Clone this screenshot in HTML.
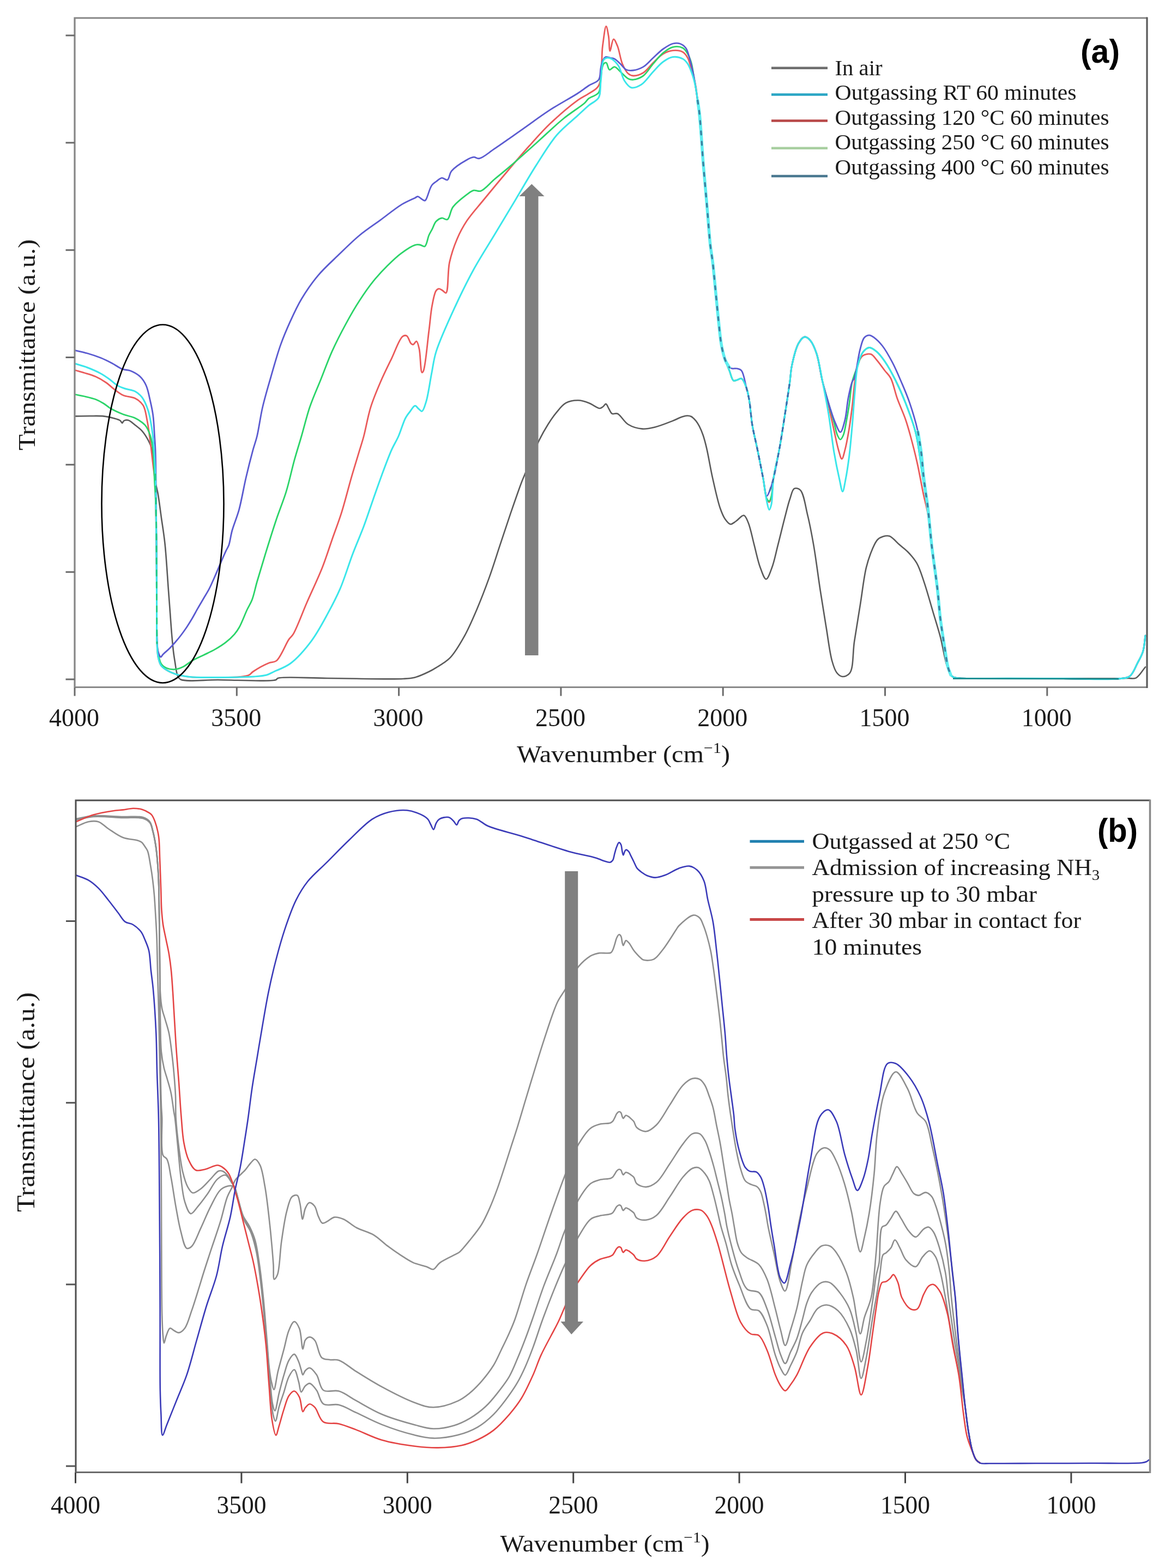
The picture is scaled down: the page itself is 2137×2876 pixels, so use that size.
<!DOCTYPE html>
<html><head><meta charset="utf-8"><title>FTIR spectra</title>
<style>html,body{margin:0;padding:0;background:#fff;} svg{display:block;}</style>
</head><body>
<svg xmlns="http://www.w3.org/2000/svg" width="2137" height="2876" viewBox="0 0 2137 2876">
<rect x="0" y="0" width="2137" height="2876" fill="#ffffff"/>
<path d="M137.5,763.4 C146.7,763.3 156.1,763.0 165.0,763.0 C173.5,763.0 182.4,762.6 190.0,763.4 C196.5,764.1 202.6,765.6 208.0,767.0 C212.4,768.2 217.1,769.1 220.0,771.0 C222.1,772.4 223.2,776.1 224.4,776.0 C225.4,775.9 225.6,772.9 227.0,772.0 C228.8,770.8 232.4,770.0 235.3,770.7 C239.3,771.6 243.8,776.5 248.0,779.7 C252.3,783.1 256.9,786.3 260.7,790.6 C264.8,795.3 268.5,801.2 271.6,807.0 C274.6,812.7 277.2,818.2 279.0,825.0 C281.1,833.1 281.6,843.2 282.5,852.4 C283.4,861.6 283.1,871.0 284.3,880.0 C285.5,888.8 288.1,896.2 289.8,906.0 C292.0,918.7 293.9,935.1 296.0,950.0 C298.2,965.4 300.6,979.0 302.5,997.0 C305.1,1021.3 307.2,1059.4 309.0,1082.8 C310.2,1099.1 311.1,1110.3 312.1,1124.1 C313.1,1137.9 314.1,1152.7 315.2,1165.5 C316.2,1176.6 317.1,1187.2 318.3,1196.5 C319.2,1204.1 320.5,1211.1 321.4,1217.2 C322.1,1222.0 322.6,1226.0 323.4,1230.0 C324.1,1233.6 324.5,1237.2 326.0,1240.0 C327.4,1242.6 328.2,1244.9 331.7,1246.5 C341.6,1251.0 374.7,1246.9 400.0,1247.0 C431.5,1247.1 495.1,1250.9 506.0,1247.0 C508.3,1246.2 507.4,1244.8 509.6,1244.0 C519.5,1240.4 566.6,1243.9 600.0,1244.0 C641.6,1244.1 713.8,1246.5 740.0,1245.0 C750.3,1244.4 754.1,1244.3 761.4,1242.4 C769.6,1240.3 779.8,1235.4 786.8,1232.0 C792.0,1229.5 795.0,1227.8 800.0,1224.6 C807.2,1220.1 817.6,1214.7 825.4,1206.7 C835.1,1196.8 843.6,1181.6 851.5,1167.5 C860.0,1152.4 867.0,1135.6 874.4,1118.4 C882.3,1099.8 890.2,1079.3 897.3,1059.6 C904.4,1040.1 910.4,1020.3 916.9,1000.7 C923.4,981.1 929.9,961.2 936.5,941.9 C943.0,923.1 951.2,899.3 956.1,886.3 C958.8,879.2 960.2,876.3 962.7,870.0 C966.2,861.5 970.7,850.2 975.0,840.0 C979.4,829.5 983.7,818.2 988.8,807.9 C993.8,797.8 999.5,787.5 1005.2,778.5 C1010.4,770.2 1015.8,762.4 1021.5,755.6 C1026.7,749.4 1031.4,742.8 1037.9,739.2 C1044.4,735.6 1053.4,734.2 1060.7,734.3 C1067.5,734.4 1074.0,736.8 1080.4,739.2 C1087.1,741.7 1095.3,749.0 1100.0,749.0 C1102.6,749.0 1104.1,747.3 1106.0,746.0 C1108.0,744.6 1109.7,740.7 1111.4,740.9 C1113.4,741.2 1115.1,747.0 1117.0,750.0 C1118.9,753.0 1120.2,757.4 1122.9,758.8 C1125.5,760.2 1129.2,757.3 1132.7,758.8 C1138.6,761.2 1144.6,773.9 1152.3,778.5 C1159.9,783.1 1169.9,785.9 1178.4,786.6 C1186.2,787.2 1193.1,785.4 1201.3,783.4 C1211.3,781.0 1225.1,775.4 1234.0,771.9 C1240.3,769.4 1245.2,766.6 1250.0,765.0 C1253.7,763.8 1257.0,762.6 1260.2,762.5 C1263.0,762.4 1265.5,762.7 1268.0,764.0 C1271.0,765.5 1274.0,768.9 1276.5,771.9 C1278.9,774.8 1280.7,777.9 1282.7,781.7 C1285.1,786.4 1287.5,791.9 1289.6,798.0 C1292.1,805.3 1294.0,812.7 1296.3,822.6 C1299.7,837.1 1303.1,858.9 1307.2,877.0 C1311.3,895.2 1316.1,917.8 1320.8,931.5 C1323.8,940.1 1326.3,946.7 1330.0,952.0 C1332.9,956.1 1336.4,961.0 1339.9,961.5 C1343.1,961.9 1346.4,958.3 1350.0,956.0 C1354.5,953.1 1360.6,944.5 1364.4,945.2 C1368.0,945.9 1370.1,952.8 1372.6,958.8 C1376.7,968.6 1379.9,986.0 1383.5,999.6 C1387.1,1013.2 1390.1,1029.2 1394.4,1040.5 C1397.7,1049.1 1401.7,1062.3 1405.3,1062.3 C1408.9,1062.3 1413.0,1049.1 1416.2,1040.5 C1420.5,1029.2 1423.2,1014.2 1427.0,999.6 C1431.3,982.8 1436.6,960.7 1440.7,945.2 C1443.7,933.6 1445.9,923.8 1449.0,915.0 C1451.5,907.9 1453.0,898.1 1457.0,896.1 C1459.9,894.6 1464.8,895.8 1468.0,898.9 C1474.6,905.2 1477.5,929.1 1481.5,945.2 C1485.8,962.5 1488.9,979.6 1492.4,999.6 C1496.7,1024.1 1500.5,1055.6 1504.5,1081.7 C1508.2,1105.5 1511.7,1127.6 1515.4,1149.8 C1519.0,1171.1 1521.9,1197.2 1526.3,1212.5 C1528.9,1221.7 1531.1,1229.1 1535.0,1234.0 C1537.9,1237.6 1541.5,1240.7 1545.3,1241.0 C1549.5,1241.3 1555.5,1239.1 1559.0,1234.3 C1565.8,1224.9 1564.1,1196.9 1567.1,1177.0 C1570.4,1155.3 1574.4,1131.7 1578.0,1109.0 C1581.7,1086.3 1584.5,1059.3 1589.0,1040.9 C1592.2,1027.9 1595.9,1017.4 1599.8,1008.2 C1602.9,1001.1 1605.6,994.1 1609.6,990.0 C1612.6,986.9 1616.3,985.1 1620.0,984.0 C1623.6,982.9 1627.4,982.0 1631.4,983.3 C1637.3,985.3 1644.5,994.5 1650.4,999.6 C1655.6,1004.0 1660.2,1007.1 1665.0,1012.0 C1670.6,1017.8 1676.8,1024.5 1681.5,1032.7 C1687.2,1042.6 1690.7,1054.9 1695.2,1068.1 C1700.7,1084.2 1706.3,1105.2 1711.5,1122.6 C1716.3,1138.7 1721.0,1153.2 1725.1,1168.9 C1729.2,1185.0 1732.3,1205.8 1736.0,1218.0 C1738.3,1225.6 1740.2,1231.7 1743.0,1236.0 C1745.0,1239.0 1746.9,1241.1 1749.6,1242.4 C1752.5,1243.8 1754.8,1243.6 1760.0,1244.0 C1775.2,1245.2 1819.2,1244.1 1850.0,1244.2 C1882.5,1244.3 1917.5,1244.3 1950.0,1244.4 C1980.8,1244.4 2018.0,1244.7 2040.0,1244.5 C2052.7,1244.4 2062.0,1244.2 2070.0,1244.0 C2075.4,1243.9 2079.2,1245.7 2083.6,1243.6 C2089.7,1240.7 2095.2,1230.2 2101.0,1223.5" fill="none" stroke="#5a5a5a" stroke-width="2.6" stroke-linejoin="round" stroke-linecap="round" />
<path d="M137.5,679.0 C143.3,680.7 149.0,682.1 155.0,684.0 C161.6,686.0 168.8,687.9 175.4,690.8 C182.2,693.8 189.1,697.9 195.0,702.0 C200.5,705.8 204.8,710.6 210.0,714.4 C215.1,718.2 220.0,722.3 226.0,725.0 C232.5,727.9 241.7,727.4 248.0,730.7 C253.8,733.7 259.0,737.7 262.6,743.4 C266.9,750.3 267.8,760.9 269.8,770.7 C272.1,781.9 273.6,794.2 275.3,807.0 C277.2,821.3 279.1,839.1 280.7,852.4 C281.9,862.7 283.2,869.9 284.0,880.0 C284.9,892.1 285.1,904.4 285.5,920.0 C286.1,942.1 286.7,971.8 287.0,1000.0 C287.4,1031.5 287.3,1068.5 287.5,1100.0 C287.7,1128.2 287.2,1160.9 288.0,1180.0 C288.5,1190.7 288.5,1197.8 290.0,1205.0 C291.2,1210.7 292.5,1216.2 295.0,1220.0 C297.0,1223.1 299.3,1224.7 302.6,1227.0 C307.2,1230.2 314.0,1233.6 320.8,1236.0 C328.8,1238.8 337.4,1240.4 348.0,1241.6 C362.5,1243.2 383.8,1242.6 400.0,1242.5 C414.2,1242.4 429.5,1242.7 440.0,1241.5 C446.9,1240.7 452.8,1240.1 457.0,1238.0 C460.1,1236.5 460.7,1234.3 464.0,1232.0 C470.3,1227.7 485.2,1219.3 493.3,1216.0 C498.6,1213.8 502.5,1215.5 507.0,1212.0 C515.0,1205.8 524.1,1180.9 530.0,1172.6 C533.0,1168.4 534.7,1168.2 537.6,1163.6 C544.3,1152.8 554.3,1124.9 563.0,1105.0 C572.1,1084.2 583.0,1061.6 591.0,1041.5 C598.0,1023.8 602.9,1007.6 608.8,990.7 C614.7,973.7 620.9,957.8 626.6,939.8 C632.9,919.9 638.6,896.3 644.4,876.3 C649.6,858.4 655.5,839.4 659.7,825.4 C662.7,815.5 664.6,810.1 667.3,800.0 C671.2,785.6 674.7,763.7 680.0,746.8 C685.0,730.8 691.4,715.9 697.8,701.0 C704.1,686.3 711.3,671.9 718.2,657.8 C724.9,644.0 732.2,621.7 738.5,617.1 C741.1,615.2 743.8,614.8 746.0,615.9 C749.2,617.5 751.2,627.4 753.8,629.9 C755.2,631.2 756.6,632.2 758.0,632.0 C759.9,631.7 762.3,625.6 764.0,626.0 C766.2,626.5 767.6,633.9 769.0,640.0 C771.4,650.3 771.3,682.2 774.0,683.2 C774.8,683.5 775.8,682.4 776.6,680.7 C780.4,673.2 783.9,628.8 786.8,607.0 C789.1,589.6 790.0,573.4 792.7,560.0 C794.7,549.7 796.7,537.7 800.0,533.2 C801.6,531.0 803.5,529.8 805.4,529.7 C807.5,529.6 809.9,531.7 812.0,533.0 C814.1,534.3 816.4,538.1 818.1,537.3 C822.8,535.2 820.8,498.7 824.5,481.4 C827.9,465.9 832.9,451.4 838.5,438.2 C843.6,426.2 849.0,416.2 856.3,405.1 C864.7,392.5 875.3,381.1 886.8,367.0 C901.5,349.0 922.4,323.9 937.6,306.0 C949.7,291.7 959.1,280.6 970.7,267.8 C982.8,254.3 994.8,240.5 1008.8,227.1 C1024.2,212.5 1046.3,193.6 1059.7,183.9 C1067.7,178.1 1073.6,176.1 1080.0,171.6 C1086.4,167.1 1093.8,165.1 1098.2,157.0 C1105.9,142.8 1102.6,104.5 1105.4,84.5 C1107.4,70.3 1109.7,48.3 1111.8,48.2 C1113.3,48.1 1115.1,59.6 1116.3,66.3 C1117.7,74.4 1117.3,93.4 1119.0,93.6 C1120.5,93.7 1122.8,72.1 1125.4,71.8 C1127.5,71.5 1130.4,79.1 1132.7,84.5 C1136.1,92.7 1137.8,108.1 1141.7,117.2 C1144.8,124.4 1148.5,131.8 1152.6,135.3 C1155.4,137.7 1158.1,138.8 1161.7,139.0 C1166.7,139.2 1174.3,136.9 1180.0,133.5 C1186.6,129.5 1191.9,121.1 1198.0,115.3 C1204.0,109.6 1209.7,102.8 1216.2,99.0 C1221.9,95.6 1228.2,93.2 1234.3,92.6 C1240.3,92.0 1247.8,92.8 1252.5,95.4 C1256.6,97.7 1259.1,101.7 1261.6,106.3 C1264.9,112.4 1266.6,121.7 1268.9,129.9 C1271.4,138.6 1274.2,147.9 1276.0,157.0 C1277.8,166.0 1278.5,175.2 1279.7,184.3 C1280.9,193.4 1282.2,199.9 1283.4,211.6 C1285.6,232.6 1287.7,271.3 1290.0,300.0 C1292.2,327.3 1294.8,354.2 1297.0,380.0 C1299.1,404.1 1300.9,431.6 1303.0,450.0 C1304.4,462.1 1305.8,468.5 1307.2,480.0 C1309.1,495.5 1310.9,516.3 1312.7,534.5 C1314.5,552.7 1316.2,571.7 1318.1,589.0 C1319.8,604.8 1321.1,621.2 1323.6,634.3 C1325.6,644.6 1328.1,653.5 1330.8,661.6 C1333.0,668.4 1335.6,673.9 1338.0,680.0 C1340.4,686.0 1342.1,696.1 1345.4,698.0 C1347.3,699.1 1349.7,697.6 1352.0,697.0 C1354.6,696.4 1357.6,693.4 1360.0,694.3 C1363.6,695.7 1366.7,704.5 1369.0,710.6 C1371.7,717.6 1372.8,725.0 1374.4,734.2 C1376.6,746.9 1377.5,765.1 1380.0,780.0 C1382.4,794.5 1385.9,807.5 1389.0,822.6 C1392.5,839.6 1396.7,860.5 1399.8,877.0 C1402.4,890.8 1403.6,908.0 1406.6,915.0 C1407.9,918.1 1409.7,921.1 1411.0,921.0 C1412.5,920.8 1413.9,916.1 1415.0,912.0 C1417.1,904.3 1416.9,889.9 1418.9,877.0 C1421.4,860.8 1426.3,841.8 1429.8,822.6 C1433.7,801.2 1437.4,775.9 1440.7,754.5 C1443.7,735.3 1446.8,715.4 1448.9,700.0 C1450.4,688.7 1450.3,681.2 1452.5,670.7 C1455.2,657.9 1459.8,638.0 1465.2,629.0 C1468.4,623.6 1472.2,618.4 1476.0,618.0 C1479.5,617.6 1483.8,621.5 1487.0,625.3 C1491.5,630.6 1494.8,639.4 1498.0,649.0 C1502.5,662.6 1505.0,683.6 1508.8,700.0 C1512.4,715.5 1516.5,730.0 1520.0,745.0 C1523.5,760.0 1526.8,775.9 1530.0,790.0 C1532.8,802.4 1535.2,815.5 1538.0,825.0 C1540.0,831.7 1542.2,841.7 1544.2,841.7 C1546.2,841.7 1548.2,831.7 1550.0,825.0 C1552.6,815.5 1554.9,802.4 1557.0,790.0 C1559.4,776.0 1561.5,760.0 1563.3,745.0 C1565.1,730.0 1566.2,713.5 1568.0,700.0 C1569.5,689.0 1570.1,678.4 1573.0,670.0 C1575.3,663.2 1577.9,655.9 1582.4,652.6 C1586.4,649.7 1593.2,648.3 1597.5,649.6 C1601.7,650.9 1604.4,656.0 1608.1,660.2 C1612.9,665.6 1618.6,674.0 1623.2,680.0 C1627.0,684.9 1630.6,687.5 1633.8,693.5 C1638.7,702.6 1641.5,718.8 1646.0,731.3 C1650.6,744.0 1656.8,757.1 1661.0,769.2 C1664.7,779.9 1667.1,788.5 1670.2,800.0 C1674.1,814.3 1678.5,831.3 1682.3,848.4 C1686.6,867.4 1690.9,893.0 1694.4,909.0 C1696.7,919.5 1698.7,926.1 1700.5,935.0 C1702.4,944.2 1703.9,953.3 1705.3,963.4 C1706.8,974.8 1707.3,985.4 1709.0,1000.0 C1711.5,1021.9 1716.9,1057.2 1719.7,1081.7 C1722.0,1101.7 1722.8,1118.1 1725.1,1136.2 C1727.4,1154.4 1730.8,1174.9 1733.3,1190.7 C1735.3,1203.0 1736.5,1214.7 1738.8,1223.4 C1740.3,1229.3 1741.7,1234.7 1744.0,1238.0 C1745.6,1240.2 1747.3,1241.4 1749.6,1242.4 C1752.4,1243.6 1754.8,1243.6 1760.0,1244.0 C1775.2,1245.2 1819.2,1244.2 1850.0,1244.3 C1882.5,1244.4 1916.7,1244.5 1950.0,1244.6 C1983.3,1244.7 2028.8,1247.0 2050.0,1245.0 C2060.0,1244.0 2066.1,1244.9 2072.0,1240.7 C2078.6,1236.0 2082.3,1224.3 2086.5,1216.3 C2090.4,1209.0 2094.2,1202.7 2096.6,1194.8 C2099.3,1186.1 2099.5,1175.6 2101.0,1166.0" fill="none" stroke="#ea5a5a" stroke-width="2.8" stroke-linejoin="round" stroke-linecap="round" />
<path d="M137.5,723.5 C143.3,724.7 149.0,725.6 155.0,727.0 C161.6,728.5 169.3,730.1 175.4,732.5 C180.8,734.6 185.4,737.2 190.0,740.0 C194.5,742.7 197.6,746.1 202.6,749.0 C209.1,752.8 218.2,756.9 226.0,760.0 C233.4,762.9 241.3,763.7 248.0,767.0 C254.6,770.3 261.4,774.4 266.0,779.7 C270.4,784.8 272.9,791.1 275.3,798.0 C278.1,806.0 279.4,814.4 280.7,825.0 C282.6,840.0 282.5,863.1 283.4,880.0 C284.1,894.4 284.9,904.4 285.5,920.0 C286.3,942.1 286.7,971.8 287.0,1000.0 C287.4,1031.5 287.3,1068.5 287.5,1100.0 C287.7,1128.2 286.9,1162.9 288.0,1180.0 C288.5,1188.2 289.1,1191.9 290.3,1198.0 C291.6,1204.3 292.4,1212.5 295.5,1217.2 C298.0,1221.1 301.8,1223.8 305.9,1225.5 C310.3,1227.4 316.3,1228.1 321.4,1227.6 C326.6,1227.1 331.9,1224.9 336.9,1222.4 C342.2,1219.8 346.7,1215.3 352.4,1212.0 C358.7,1208.3 366.2,1205.1 373.1,1201.7 C380.0,1198.3 387.0,1195.3 393.8,1191.4 C400.8,1187.4 408.3,1182.8 414.5,1177.9 C420.3,1173.4 425.8,1168.3 430.0,1163.4 C433.6,1159.2 435.8,1156.2 438.8,1150.8 C443.4,1142.6 449.0,1127.3 453.4,1118.0 C456.7,1111.1 459.7,1107.1 462.4,1100.0 C465.9,1090.8 468.0,1079.2 471.5,1067.0 C475.9,1051.8 481.3,1033.9 486.8,1016.0 C493.0,996.0 500.3,972.4 507.0,952.5 C513.0,934.6 519.6,919.4 525.0,901.7 C530.7,883.0 535.2,861.2 540.2,843.2 C544.5,827.7 548.6,815.2 553.0,800.0 C557.9,783.2 562.3,764.2 568.2,746.8 C574.1,729.5 581.7,712.9 588.5,696.0 C595.3,679.0 601.3,661.9 608.8,645.1 C616.5,628.0 625.5,610.4 634.3,594.3 C642.5,579.1 650.9,564.5 659.7,551.0 C667.9,538.4 676.3,526.3 685.1,515.4 C693.3,505.3 701.8,496.1 710.5,487.5 C718.8,479.3 727.2,471.1 736.0,464.6 C744.2,458.5 755.0,451.2 761.4,449.3 C764.9,448.3 767.1,448.6 770.0,449.0 C773.1,449.4 776.7,453.1 779.2,451.9 C783.0,450.1 784.2,437.2 786.8,431.5 C788.7,427.2 790.6,424.4 792.7,420.4 C795.0,415.9 796.7,409.5 800.0,406.0 C802.9,403.0 806.9,400.5 810.5,400.0 C813.8,399.5 817.8,404.0 820.7,402.6 C825.2,400.4 825.7,386.8 830.9,379.7 C836.9,371.4 849.1,362.2 856.3,356.8 C861.1,353.3 864.6,350.2 869.0,349.2 C873.1,348.3 877.1,351.9 881.7,350.4 C889.2,348.0 898.2,336.3 907.1,328.8 C916.8,320.7 926.5,313.0 937.6,303.4 C951.4,291.5 967.7,276.7 983.4,262.7 C999.9,247.9 1018.3,230.0 1034.3,217.0 C1047.6,206.2 1064.7,195.9 1072.4,189.0 C1076.1,185.6 1076.7,183.4 1080.0,180.7 C1084.6,177.0 1094.4,175.6 1098.2,169.8 C1102.7,162.9 1100.4,149.2 1102.0,140.0 C1103.4,131.9 1104.4,120.7 1107.2,117.2 C1108.5,115.5 1110.5,114.5 1112.0,115.0 C1114.4,115.9 1115.2,127.1 1118.0,128.0 C1120.4,128.8 1124.1,122.3 1127.2,122.6 C1130.8,122.9 1134.2,128.4 1138.1,131.7 C1142.6,135.6 1148.0,142.2 1152.6,144.4 C1155.8,146.0 1158.2,146.5 1161.7,146.2 C1166.8,145.7 1174.4,143.1 1180.0,139.0 C1186.7,134.1 1191.9,124.2 1198.0,117.2 C1204.0,110.3 1209.7,102.5 1216.2,97.2 C1221.9,92.5 1228.0,87.7 1234.3,86.3 C1240.1,85.0 1247.8,85.5 1252.5,88.0 C1256.6,90.2 1259.1,94.8 1261.6,99.0 C1264.4,103.7 1266.3,109.0 1268.0,115.0 C1270.1,122.1 1270.9,129.7 1272.5,139.0 C1274.7,151.7 1277.8,171.1 1279.7,184.3 C1281.2,194.5 1282.2,199.9 1283.4,211.6 C1285.6,232.6 1287.7,271.3 1290.0,300.0 C1292.2,327.3 1294.8,354.2 1297.0,380.0 C1299.1,404.1 1300.9,431.6 1303.0,450.0 C1304.4,462.1 1305.8,468.5 1307.2,480.0 C1309.1,495.5 1310.9,516.3 1312.7,534.5 C1314.5,552.7 1316.2,571.7 1318.1,589.0 C1319.8,604.8 1321.1,621.2 1323.6,634.3 C1325.6,644.6 1328.1,653.5 1330.8,661.6 C1333.0,668.4 1335.6,673.9 1338.0,680.0 C1340.4,686.0 1342.1,696.1 1345.4,698.0 C1347.3,699.1 1349.7,697.6 1352.0,697.0 C1354.6,696.4 1357.6,693.4 1360.0,694.3 C1363.6,695.7 1366.7,704.5 1369.0,710.6 C1371.7,717.6 1372.8,725.0 1374.4,734.2 C1376.6,746.9 1377.5,765.1 1380.0,780.0 C1382.4,794.5 1385.9,807.5 1389.0,822.6 C1392.5,839.6 1396.7,860.5 1399.8,877.0 C1402.4,890.8 1403.3,909.0 1406.6,915.0 C1407.9,917.4 1409.7,919.3 1411.0,919.0 C1412.6,918.7 1413.9,914.1 1415.0,910.0 C1417.0,902.6 1416.9,889.3 1418.9,877.0 C1421.4,861.1 1426.3,841.8 1429.8,822.6 C1433.7,801.2 1437.4,775.9 1440.7,754.5 C1443.7,735.3 1446.8,715.4 1448.9,700.0 C1450.4,688.7 1450.3,681.2 1452.5,670.7 C1455.2,657.9 1459.8,638.0 1465.2,629.0 C1468.4,623.6 1472.2,618.4 1476.0,618.0 C1479.5,617.6 1483.8,621.5 1487.0,625.3 C1491.5,630.6 1494.8,639.4 1498.0,649.0 C1502.5,662.6 1504.9,684.1 1508.8,700.0 C1512.3,714.2 1516.4,727.1 1520.0,740.0 C1523.4,752.1 1527.1,764.5 1530.0,775.0 C1532.3,783.5 1533.5,792.4 1536.0,798.0 C1537.6,801.6 1539.7,806.2 1541.5,806.2 C1543.3,806.2 1545.4,801.7 1547.0,798.0 C1549.7,791.6 1551.2,779.5 1553.0,770.0 C1554.9,760.2 1556.4,750.7 1558.0,740.0 C1559.8,727.6 1560.4,712.2 1563.3,700.0 C1565.8,689.4 1570.0,680.1 1573.3,670.8 C1576.3,662.3 1578.1,652.3 1582.4,646.6 C1585.7,642.2 1590.2,637.8 1594.5,637.5 C1598.8,637.2 1603.8,641.4 1608.1,645.0 C1613.4,649.4 1618.2,655.9 1623.2,663.2 C1629.8,672.7 1636.8,685.8 1642.9,698.0 C1649.4,710.9 1655.3,724.3 1661.0,738.9 C1667.4,755.3 1674.8,774.9 1679.2,791.9 C1683.2,807.2 1685.0,822.2 1687.2,836.3 C1689.2,849.0 1690.3,861.1 1692.0,872.6 C1693.6,883.2 1695.4,893.4 1696.9,902.9 C1698.2,911.4 1699.3,918.2 1700.5,927.1 C1702.0,938.0 1703.9,951.3 1705.3,963.4 C1706.7,975.6 1707.3,985.4 1709.0,1000.0 C1711.5,1021.9 1716.9,1057.2 1719.7,1081.7 C1722.0,1101.7 1722.8,1118.1 1725.1,1136.2 C1727.4,1154.4 1730.8,1174.9 1733.3,1190.7 C1735.3,1203.0 1736.5,1214.7 1738.8,1223.4 C1740.3,1229.3 1741.7,1234.7 1744.0,1238.0 C1745.6,1240.2 1747.3,1241.4 1749.6,1242.4 C1752.4,1243.6 1754.8,1243.6 1760.0,1244.0 C1775.2,1245.2 1819.2,1244.2 1850.0,1244.3 C1882.5,1244.4 1916.7,1244.5 1950.0,1244.6 C1983.3,1244.7 2028.8,1247.0 2050.0,1245.0 C2060.0,1244.0 2066.1,1244.9 2072.0,1240.7 C2078.6,1236.0 2082.3,1224.3 2086.5,1216.3 C2090.4,1209.0 2094.2,1202.7 2096.6,1194.8 C2099.3,1186.1 2099.5,1175.6 2101.0,1166.0" fill="none" stroke="#2ad468" stroke-width="2.8" stroke-linejoin="round" stroke-linecap="round" />
<path d="M137.5,642.6 C145.0,644.4 152.4,645.8 160.0,648.0 C168.0,650.3 176.8,653.2 184.5,656.3 C191.7,659.2 198.3,662.5 205.0,666.0 C211.6,669.4 218.2,674.7 224.4,677.0 C229.5,678.9 234.0,678.1 239.0,680.0 C244.9,682.3 252.1,686.2 257.0,690.8 C261.7,695.3 265.1,700.6 268.0,707.0 C271.5,714.6 273.2,724.9 275.3,734.0 C277.4,743.1 279.4,751.7 280.7,761.6 C282.2,772.9 282.7,786.8 283.4,798.0 C284.0,807.7 284.6,814.4 285.0,825.0 C285.6,840.1 285.7,858.1 286.0,880.0 C286.4,912.3 286.7,961.8 287.0,1000.0 C287.2,1034.9 287.3,1069.6 287.5,1100.0 C287.7,1125.4 287.2,1152.6 288.0,1170.0 C288.5,1180.4 288.2,1188.7 290.0,1195.0 C291.2,1199.2 293.3,1204.8 295.0,1205.0 C296.2,1205.1 297.0,1202.4 298.6,1200.7 C301.4,1197.7 307.1,1193.2 311.0,1189.3 C314.7,1185.6 318.0,1181.9 321.4,1178.0 C324.9,1174.0 328.3,1169.9 331.7,1165.5 C335.2,1160.9 338.7,1156.0 342.1,1151.0 C345.6,1145.7 349.0,1140.2 352.4,1134.5 C355.9,1128.5 359.3,1122.0 362.8,1115.9 C366.2,1109.9 369.7,1104.2 373.1,1098.3 C376.5,1092.4 380.1,1087.0 383.4,1080.7 C387.0,1073.7 390.4,1065.7 393.8,1058.0 C397.3,1050.2 400.6,1042.1 404.1,1034.1 C407.5,1026.2 411.6,1016.6 414.5,1010.3 C416.5,1006.1 418.1,1004.4 419.7,1000.0 C422.1,993.2 423.1,982.7 425.8,973.0 C429.1,961.3 434.6,949.0 438.5,934.8 C443.2,917.5 446.8,895.1 451.2,876.3 C455.3,858.7 460.2,839.4 464.0,825.4 C466.7,815.4 469.1,810.1 471.5,800.0 C475.0,785.6 477.5,764.7 481.7,746.8 C486.0,728.3 491.6,709.8 497.0,691.0 C502.6,671.7 508.4,650.3 514.8,632.4 C520.4,616.8 526.2,603.3 532.6,589.2 C538.9,575.3 544.9,562.0 553.0,548.5 C561.7,534.0 572.1,518.8 583.4,505.3 C594.9,491.7 608.7,479.5 621.5,467.1 C634.1,454.9 646.6,442.3 659.7,431.5 C672.1,421.2 685.1,412.9 697.8,403.6 C710.5,394.3 724.3,382.8 736.0,375.6 C745.1,370.1 756.2,365.5 761.4,362.9 C763.8,361.7 764.8,360.2 766.5,360.3 C768.3,360.4 770.0,362.8 772.0,364.0 C774.2,365.4 777.5,368.3 779.2,368.0 C780.3,367.8 780.8,366.8 781.7,365.4 C783.9,361.9 787.2,349.7 789.4,345.0 C790.6,342.3 791.2,340.9 792.7,339.0 C794.5,336.8 797.3,335.0 800.0,333.0 C803.1,330.7 806.9,326.7 810.5,326.3 C813.8,325.9 817.9,331.2 820.7,330.0 C824.3,328.5 824.0,318.8 828.3,313.6 C834.3,306.4 848.6,297.5 856.3,293.2 C861.2,290.5 865.0,288.5 869.0,288.2 C872.5,288.0 875.1,291.4 879.2,290.7 C886.4,289.5 896.4,280.0 907.0,272.9 C921.5,263.2 941.0,249.2 958.0,237.3 C975.0,225.4 991.7,212.8 1008.8,201.7 C1025.6,190.8 1046.7,179.6 1059.7,171.2 C1068.1,165.7 1073.3,161.3 1080.0,157.0 C1086.2,153.0 1094.5,151.5 1098.2,146.2 C1101.9,140.9 1100.6,131.2 1102.0,125.0 C1103.1,120.0 1103.6,115.3 1105.4,111.7 C1106.8,108.8 1108.5,105.4 1110.9,104.5 C1113.3,103.6 1117.1,105.7 1120.0,106.3 C1122.5,106.9 1124.7,106.7 1127.2,108.0 C1130.7,109.7 1134.5,113.9 1138.1,117.2 C1141.8,120.6 1144.8,126.1 1149.0,128.0 C1152.8,129.7 1157.1,129.6 1161.7,129.0 C1167.3,128.3 1174.2,126.0 1180.0,122.6 C1186.4,118.8 1192.0,111.7 1198.0,106.3 C1204.0,100.9 1209.9,94.5 1216.2,90.0 C1222.0,85.9 1228.6,81.5 1234.3,80.0 C1238.8,78.9 1243.1,78.7 1247.0,80.0 C1251.0,81.3 1255.1,84.1 1258.0,88.0 C1261.6,92.8 1263.0,100.5 1265.2,108.0 C1267.9,117.1 1270.3,127.6 1272.5,139.0 C1275.2,152.6 1277.8,171.1 1279.7,184.3 C1281.2,194.5 1282.2,199.9 1283.4,211.6 C1285.6,232.6 1287.7,271.3 1290.0,300.0 C1292.2,327.3 1294.8,354.2 1297.0,380.0 C1299.1,404.1 1300.9,431.6 1303.0,450.0 C1304.4,462.1 1305.8,468.5 1307.2,480.0 C1309.1,495.5 1310.9,516.3 1312.7,534.5 C1314.5,552.7 1316.2,571.7 1318.1,589.0 C1319.8,604.8 1321.1,621.2 1323.6,634.3 C1325.6,644.6 1327.8,654.4 1330.8,661.6 C1332.9,666.7 1335.3,671.8 1338.0,674.0 C1339.7,675.4 1341.5,675.6 1343.6,676.0 C1346.1,676.4 1349.3,675.4 1352.0,676.0 C1354.8,676.6 1357.7,677.0 1360.0,679.7 C1364.4,684.8 1366.5,701.0 1369.0,710.6 C1371.2,719.0 1372.8,725.0 1374.4,734.2 C1376.6,746.9 1377.5,765.1 1380.0,780.0 C1382.4,794.5 1385.9,807.5 1389.0,822.6 C1392.5,839.6 1396.6,861.2 1399.8,877.0 C1402.3,889.3 1403.8,909.4 1406.6,909.8 C1408.2,910.0 1410.3,904.1 1412.0,900.0 C1414.5,894.0 1416.6,886.4 1418.9,877.0 C1422.5,862.8 1426.3,841.8 1429.8,822.6 C1433.7,801.2 1437.4,775.9 1440.7,754.5 C1443.7,735.3 1446.8,715.4 1448.9,700.0 C1450.4,688.7 1450.3,681.2 1452.5,670.7 C1455.2,657.9 1459.8,638.0 1465.2,629.0 C1468.4,623.6 1472.2,618.4 1476.0,618.0 C1479.5,617.6 1483.8,621.5 1487.0,625.3 C1491.5,630.6 1494.8,639.4 1498.0,649.0 C1502.5,662.6 1504.9,684.1 1508.8,700.0 C1512.3,714.2 1516.0,727.2 1520.0,740.0 C1523.8,752.1 1527.8,765.5 1532.0,775.0 C1535.1,782.0 1538.6,792.8 1541.5,792.6 C1544.7,792.4 1547.7,778.7 1550.0,770.0 C1552.9,758.7 1553.6,742.3 1556.0,730.0 C1558.1,719.2 1560.7,706.2 1563.3,700.0 C1564.6,696.9 1565.9,696.9 1567.2,693.5 C1570.7,684.5 1574.0,654.1 1577.8,640.5 C1580.2,631.7 1581.7,623.5 1585.4,619.3 C1587.9,616.5 1591.5,614.8 1594.5,614.8 C1597.5,614.8 1600.4,617.0 1603.6,619.3 C1608.3,622.7 1613.8,628.2 1618.7,634.5 C1625.0,642.6 1631.3,654.0 1636.9,664.7 C1642.9,676.1 1648.2,688.7 1653.5,701.0 C1658.8,713.4 1663.9,725.1 1668.6,738.9 C1674.1,755.0 1680.2,775.6 1683.8,791.9 C1686.8,805.5 1688.1,816.9 1689.8,830.0 C1691.6,843.8 1692.5,859.6 1694.0,872.6 C1695.3,883.6 1696.7,893.4 1698.0,902.9 C1699.2,911.4 1700.4,918.2 1701.5,927.1 C1702.9,938.0 1704.1,951.3 1705.3,963.4 C1706.6,975.6 1707.3,985.4 1709.0,1000.0 C1711.5,1021.9 1716.9,1057.2 1719.7,1081.7 C1722.0,1101.7 1722.8,1118.1 1725.1,1136.2 C1727.4,1154.4 1730.8,1174.9 1733.3,1190.7 C1735.3,1203.0 1736.5,1214.7 1738.8,1223.4 C1740.3,1229.3 1741.7,1234.7 1744.0,1238.0 C1745.6,1240.2 1747.3,1241.4 1749.6,1242.4 C1752.4,1243.6 1754.8,1243.6 1760.0,1244.0 C1775.2,1245.2 1819.2,1244.2 1850.0,1244.3 C1882.5,1244.4 1916.7,1244.5 1950.0,1244.6 C1983.3,1244.7 2028.8,1247.0 2050.0,1245.0 C2060.0,1244.0 2066.1,1244.9 2072.0,1240.7 C2078.6,1236.0 2082.3,1224.3 2086.5,1216.3 C2090.4,1209.0 2094.2,1202.7 2096.6,1194.8 C2099.3,1186.1 2099.5,1175.6 2101.0,1166.0" fill="none" stroke="#5a5ad0" stroke-width="2.8" stroke-linejoin="round" stroke-linecap="round" />
<path d="M137.5,667.0 C145.0,669.3 152.4,671.1 160.0,674.0 C168.1,677.1 177.4,681.1 184.5,685.0 C190.4,688.2 194.9,691.4 200.0,695.0 C205.2,698.7 210.0,703.9 215.3,707.0 C220.1,709.8 224.8,711.2 230.0,713.0 C235.6,714.9 242.8,715.2 248.0,718.0 C252.9,720.7 257.0,724.2 260.7,729.0 C265.2,735.0 268.7,743.6 271.6,752.5 C275.1,763.2 277.2,776.8 279.0,789.0 C280.8,801.0 281.5,812.3 282.5,825.0 C283.6,839.2 284.4,854.6 285.0,870.0 C285.6,886.2 285.7,901.4 286.0,920.0 C286.4,943.5 286.8,971.8 287.0,1000.0 C287.3,1031.5 287.3,1068.5 287.5,1100.0 C287.7,1128.2 287.2,1160.9 288.0,1180.0 C288.5,1190.7 288.5,1197.8 290.0,1205.0 C291.2,1210.7 292.5,1216.2 295.0,1220.0 C297.0,1223.1 299.3,1224.7 302.6,1227.0 C307.2,1230.2 314.0,1233.6 320.8,1236.0 C328.8,1238.8 337.4,1240.4 348.0,1241.6 C362.5,1243.2 381.6,1242.5 400.0,1242.5 C420.7,1242.4 449.6,1242.2 466.0,1241.0 C475.8,1240.3 482.8,1239.9 489.3,1238.0 C494.4,1236.5 497.2,1234.5 502.4,1232.0 C510.4,1228.2 522.6,1224.4 532.6,1217.0 C545.4,1207.4 559.4,1191.3 570.7,1176.3 C582.4,1160.8 592.1,1142.1 601.2,1125.4 C609.7,1109.9 616.8,1096.4 624.0,1079.7 C632.2,1060.4 639.4,1036.0 647.0,1016.0 C653.8,998.1 660.9,982.3 667.3,965.3 C673.6,948.4 679.3,930.7 685.0,914.4 C690.3,899.4 695.0,885.8 700.4,871.2 C706.0,856.1 712.5,838.3 718.2,825.4 C722.6,815.6 727.0,809.1 731.0,800.0 C735.5,789.9 739.3,775.3 743.6,767.2 C746.4,761.9 749.0,758.8 752.0,755.0 C754.9,751.2 758.4,744.5 761.4,744.3 C763.7,744.1 765.8,748.3 768.0,750.0 C770.0,751.6 772.2,754.9 774.0,754.4 C777.0,753.6 779.3,744.3 781.7,736.6 C785.7,723.7 788.7,699.5 792.0,683.2 C794.8,669.4 795.3,660.0 800.0,645.1 C807.2,622.1 823.8,586.4 836.0,560.0 C846.9,536.4 857.2,515.6 869.0,494.0 C880.9,472.4 894.4,451.7 907.1,430.5 C919.8,409.3 932.6,388.2 945.3,367.0 C958.0,345.8 970.4,323.7 983.4,303.4 C995.8,284.0 1007.8,263.4 1021.5,247.5 C1033.5,233.5 1048.9,221.8 1059.7,211.9 C1067.5,204.7 1073.3,199.1 1080.0,193.4 C1086.1,188.2 1094.5,185.6 1098.2,179.0 C1102.4,171.6 1100.6,160.4 1102.0,150.0 C1103.6,137.7 1103.1,116.2 1107.2,110.0 C1109.0,107.3 1111.6,106.3 1114.0,106.0 C1116.4,105.7 1119.1,106.5 1121.8,108.0 C1125.8,110.3 1130.9,115.3 1134.5,120.8 C1139.1,127.8 1140.8,141.0 1145.4,148.0 C1149.0,153.5 1153.0,159.4 1158.0,160.7 C1163.2,162.0 1170.3,158.9 1176.2,155.3 C1183.8,150.6 1191.0,139.0 1198.0,131.7 C1204.3,125.2 1209.7,118.1 1216.2,113.5 C1221.9,109.4 1228.1,105.3 1234.3,104.5 C1240.2,103.7 1247.8,105.5 1252.5,108.0 C1256.5,110.1 1258.9,113.2 1261.6,117.2 C1265.2,122.7 1268.3,131.7 1270.7,139.0 C1273.0,146.0 1274.5,152.7 1276.0,160.0 C1277.6,167.8 1278.7,175.7 1279.7,184.3 C1280.9,193.9 1281.4,202.2 1282.5,215.0 C1284.4,236.3 1287.5,272.1 1290.0,300.0 C1292.4,327.1 1294.8,354.2 1297.0,380.0 C1299.1,404.1 1300.9,431.6 1303.0,450.0 C1304.4,462.1 1305.8,468.5 1307.2,480.0 C1309.1,495.5 1310.9,516.3 1312.7,534.5 C1314.5,552.7 1316.2,571.7 1318.1,589.0 C1319.8,604.8 1321.1,621.2 1323.6,634.3 C1325.6,644.6 1328.1,653.5 1330.8,661.6 C1333.0,668.4 1335.6,673.9 1338.0,680.0 C1340.4,686.0 1342.1,696.1 1345.4,698.0 C1347.3,699.1 1349.7,697.6 1352.0,697.0 C1354.6,696.4 1357.6,693.4 1360.0,694.3 C1363.6,695.7 1366.7,704.5 1369.0,710.6 C1371.7,717.6 1372.8,725.0 1374.4,734.2 C1376.6,746.9 1377.5,765.1 1380.0,780.0 C1382.4,794.5 1385.9,807.5 1389.0,822.6 C1392.5,839.6 1396.8,859.9 1399.8,877.0 C1402.5,892.1 1404.2,909.4 1406.6,920.0 C1408.0,926.3 1409.5,934.9 1411.0,935.0 C1412.3,935.1 1413.9,929.7 1415.0,925.0 C1417.3,915.1 1416.6,893.4 1418.9,877.0 C1421.4,859.4 1426.3,841.8 1429.8,822.6 C1433.7,801.2 1437.4,775.9 1440.7,754.5 C1443.7,735.3 1446.8,715.4 1448.9,700.0 C1450.4,688.7 1450.3,681.2 1452.5,670.7 C1455.2,657.9 1459.8,638.0 1465.2,629.0 C1468.4,623.6 1472.2,618.4 1476.0,618.0 C1479.5,617.6 1483.8,621.5 1487.0,625.3 C1491.5,630.6 1494.8,639.4 1498.0,649.0 C1502.5,662.6 1505.3,682.3 1508.8,700.0 C1512.6,719.2 1516.6,739.2 1520.0,760.0 C1523.7,782.4 1526.3,808.7 1530.0,830.0 C1533.1,848.1 1537.0,866.8 1540.0,880.0 C1542.0,888.7 1543.8,901.6 1545.6,901.6 C1547.4,901.6 1549.3,888.5 1551.0,880.0 C1553.4,868.0 1555.8,851.6 1557.8,836.0 C1560.0,818.5 1561.6,799.0 1563.3,780.0 C1565.0,760.4 1566.2,739.0 1568.0,720.0 C1569.6,702.8 1570.1,684.2 1573.3,670.8 C1575.6,661.1 1578.1,652.3 1582.4,646.6 C1585.7,642.2 1590.2,637.8 1594.5,637.5 C1598.8,637.2 1603.8,641.4 1608.1,645.0 C1613.4,649.4 1618.2,655.9 1623.2,663.2 C1629.8,672.7 1636.8,685.8 1642.9,698.0 C1649.4,710.9 1655.3,724.3 1661.0,738.9 C1667.4,755.3 1674.8,774.9 1679.2,791.9 C1683.2,807.2 1685.0,822.2 1687.2,836.3 C1689.2,849.0 1690.3,861.1 1692.0,872.6 C1693.6,883.2 1695.4,893.4 1696.9,902.9 C1698.2,911.4 1699.3,918.2 1700.5,927.1 C1702.0,938.0 1703.9,951.3 1705.3,963.4 C1706.7,975.6 1707.3,985.4 1709.0,1000.0 C1711.5,1021.9 1716.9,1057.2 1719.7,1081.7 C1722.0,1101.7 1722.8,1118.1 1725.1,1136.2 C1727.4,1154.4 1730.8,1174.9 1733.3,1190.7 C1735.3,1203.0 1736.5,1214.7 1738.8,1223.4 C1740.3,1229.3 1741.7,1234.7 1744.0,1238.0 C1745.6,1240.2 1747.3,1241.4 1749.6,1242.4 C1752.4,1243.6 1754.8,1243.6 1760.0,1244.0 C1775.2,1245.2 1819.2,1244.2 1850.0,1244.3 C1882.5,1244.4 1916.7,1244.5 1950.0,1244.6 C1983.3,1244.7 2028.8,1247.0 2050.0,1245.0 C2060.0,1244.0 2066.1,1244.9 2072.0,1240.7 C2078.6,1236.0 2082.3,1224.3 2086.5,1216.3 C2090.4,1209.0 2094.2,1202.7 2096.6,1194.8 C2099.3,1186.1 2099.5,1175.6 2101.0,1166.0" fill="none" stroke="#3ae6ea" stroke-width="3.0" stroke-linejoin="round" stroke-linecap="round" />
<path d="M1279.7,184.3 C1280.9,193.4 1282.2,199.9 1283.4,211.6 C1285.6,232.6 1287.7,271.3 1290.0,300.0 C1292.2,327.3 1294.8,354.2 1297.0,380.0 C1299.1,404.1 1300.9,431.6 1303.0,450.0 C1304.4,462.1 1305.8,468.5 1307.2,480.0 C1309.1,495.5 1310.9,516.3 1312.7,534.5 C1314.5,552.7 1316.2,571.7 1318.1,589.0 C1319.8,604.8 1321.1,621.2 1323.6,634.3 C1325.6,644.6 1327.8,654.4 1330.8,661.6 C1332.9,666.7 1335.6,669.9 1338.0,674.0" fill="none" stroke="#5eeef0" stroke-width="5.5" stroke-linejoin="round" stroke-linecap="round" />
<path d="M1279.7,184.3 C1280.9,193.4 1282.2,199.9 1283.4,211.6 C1285.6,232.6 1287.7,271.3 1290.0,300.0 C1292.2,327.3 1294.8,354.2 1297.0,380.0 C1299.1,404.1 1300.9,431.6 1303.0,450.0 C1304.4,462.1 1305.8,468.5 1307.2,480.0 C1309.1,495.5 1310.9,516.3 1312.7,534.5 C1314.5,552.7 1316.2,571.7 1318.1,589.0 C1319.8,604.8 1321.1,621.2 1323.6,634.3 C1325.6,644.6 1327.8,654.4 1330.8,661.6 C1332.9,666.7 1335.6,669.9 1338.0,674.0" fill="none" stroke="#3d7fa0" stroke-width="3.2" stroke-linejoin="round" stroke-linecap="round" stroke-dasharray="6 13" stroke-linecap="butt"/>
<path d="M1683.8,791.9 C1685.8,804.6 1688.1,816.9 1689.8,830.0 C1691.6,843.8 1692.5,859.6 1694.0,872.6 C1695.3,883.6 1696.7,893.4 1698.0,902.9 C1699.2,911.4 1700.4,918.2 1701.5,927.1 C1702.9,938.0 1704.1,951.3 1705.3,963.4 C1706.6,975.6 1707.3,985.4 1709.0,1000.0 C1711.5,1021.9 1716.9,1057.2 1719.7,1081.7 C1722.0,1101.7 1722.8,1118.1 1725.1,1136.2 C1727.4,1154.4 1730.8,1174.9 1733.3,1190.7 C1735.3,1203.0 1736.5,1214.7 1738.8,1223.4 C1740.3,1229.3 1742.3,1233.1 1744.0,1238.0" fill="none" stroke="#5eeef0" stroke-width="5.5" stroke-linejoin="round" stroke-linecap="round" />
<path d="M1683.8,791.9 C1685.8,804.6 1688.1,816.9 1689.8,830.0 C1691.6,843.8 1692.5,859.6 1694.0,872.6 C1695.3,883.6 1696.7,893.4 1698.0,902.9 C1699.2,911.4 1700.4,918.2 1701.5,927.1 C1702.9,938.0 1704.1,951.3 1705.3,963.4 C1706.6,975.6 1707.3,985.4 1709.0,1000.0 C1711.5,1021.9 1716.9,1057.2 1719.7,1081.7 C1722.0,1101.7 1722.8,1118.1 1725.1,1136.2 C1727.4,1154.4 1730.8,1174.9 1733.3,1190.7 C1735.3,1203.0 1736.5,1214.7 1738.8,1223.4 C1740.3,1229.3 1742.3,1233.1 1744.0,1238.0" fill="none" stroke="#3d7fa0" stroke-width="3.2" stroke-linejoin="round" stroke-linecap="round" stroke-dasharray="6 13" stroke-linecap="butt"/>
<path d="M1369.0,710.6 C1370.8,718.5 1372.8,725.0 1374.4,734.2 C1376.6,746.9 1377.5,765.1 1380.0,780.0 C1382.4,794.5 1385.9,807.5 1389.0,822.6 C1392.5,839.6 1396.2,858.9 1399.8,877.0" fill="none" stroke="#3d70b0" stroke-width="3.0" stroke-linejoin="round" stroke-linecap="round" stroke-dasharray="6 10" stroke-linecap="butt"/>
<path d="M1412.0,900.0 C1414.3,892.3 1416.6,886.4 1418.9,877.0 C1422.5,862.8 1426.3,841.8 1429.8,822.6 C1433.7,801.2 1437.4,775.9 1440.7,754.5 C1443.7,735.3 1446.2,718.2 1448.9,700.0" fill="none" stroke="#3d70b0" stroke-width="3.0" stroke-linejoin="round" stroke-linecap="round" stroke-dasharray="6 10" stroke-linecap="butt"/>
<path d="M285.0,870.0 C285.3,886.7 285.7,901.4 286.0,920.0 C286.4,943.5 286.8,971.8 287.0,1000.0 C287.3,1031.5 287.3,1068.5 287.5,1100.0 C287.7,1128.2 287.8,1153.3 288.0,1180.0" fill="none" stroke="#22cc88" stroke-width="3.0" stroke-linejoin="round" stroke-linecap="round" stroke-dasharray="10 12" stroke-linecap="butt"/>
<path d="M1748,1244.6 L2052,1245.2" fill="none" stroke="#1a8a8e" stroke-width="2.6"/>
<ellipse cx="298.5" cy="924" rx="112" ry="328.5" fill="none" stroke="#000" stroke-width="2.6"/>
<polygon points="963,1202 987.5,1202 987.5,360 998.5,360 975.3,337.5 952.5,360 963,360" fill="#808080"/>
<path d="M137,1260.5 L137,33 L2104,33" fill="none" stroke="#868686" stroke-width="3.2"/>
<path d="M137,1260.5 L2104,1260.5" fill="none" stroke="#8a8a8a" stroke-width="3.2"/>
<path d="M2104,31.5 L2104,1262.0" fill="none" stroke="#5a5a5a" stroke-width="3.2"/>
<line x1="120.5" y1="65.0" x2="137" y2="65.0" stroke="#6a6a6a" stroke-width="3"/>
<line x1="120.5" y1="261.8" x2="137" y2="261.8" stroke="#6a6a6a" stroke-width="3"/>
<line x1="120.5" y1="458.7" x2="137" y2="458.7" stroke="#6a6a6a" stroke-width="3"/>
<line x1="120.5" y1="655.5" x2="137" y2="655.5" stroke="#6a6a6a" stroke-width="3"/>
<line x1="120.5" y1="852.3" x2="137" y2="852.3" stroke="#6a6a6a" stroke-width="3"/>
<line x1="120.5" y1="1049.2" x2="137" y2="1049.2" stroke="#6a6a6a" stroke-width="3"/>
<line x1="120.5" y1="1246.0" x2="137" y2="1246.0" stroke="#6a6a6a" stroke-width="3"/>
<line x1="137.0" y1="1260.5" x2="137.0" y2="1276.5" stroke="#6a6a6a" stroke-width="3"/>
<line x1="434.3" y1="1260.5" x2="434.3" y2="1276.5" stroke="#6a6a6a" stroke-width="3"/>
<line x1="731.6" y1="1260.5" x2="731.6" y2="1276.5" stroke="#6a6a6a" stroke-width="3"/>
<line x1="1028.9" y1="1260.5" x2="1028.9" y2="1276.5" stroke="#6a6a6a" stroke-width="3"/>
<line x1="1326.2" y1="1260.5" x2="1326.2" y2="1276.5" stroke="#6a6a6a" stroke-width="3"/>
<line x1="1623.5" y1="1260.5" x2="1623.5" y2="1276.5" stroke="#6a6a6a" stroke-width="3"/>
<line x1="1920.8" y1="1260.5" x2="1920.8" y2="1276.5" stroke="#6a6a6a" stroke-width="3"/>
<text x="136.0" y="1331.5" font-family="'Liberation Serif', 'DejaVu Serif', serif" font-size="46" fill="#1a1a1a" text-anchor="middle" textLength="92" lengthAdjust="spacingAndGlyphs">4000</text>
<text x="433.3" y="1331.5" font-family="'Liberation Serif', 'DejaVu Serif', serif" font-size="46" fill="#1a1a1a" text-anchor="middle" textLength="92" lengthAdjust="spacingAndGlyphs">3500</text>
<text x="730.6" y="1331.5" font-family="'Liberation Serif', 'DejaVu Serif', serif" font-size="46" fill="#1a1a1a" text-anchor="middle" textLength="92" lengthAdjust="spacingAndGlyphs">3000</text>
<text x="1027.9" y="1331.5" font-family="'Liberation Serif', 'DejaVu Serif', serif" font-size="46" fill="#1a1a1a" text-anchor="middle" textLength="92" lengthAdjust="spacingAndGlyphs">2500</text>
<text x="1325.2" y="1331.5" font-family="'Liberation Serif', 'DejaVu Serif', serif" font-size="46" fill="#1a1a1a" text-anchor="middle" textLength="92" lengthAdjust="spacingAndGlyphs">2000</text>
<text x="1622.5" y="1331.5" font-family="'Liberation Serif', 'DejaVu Serif', serif" font-size="46" fill="#1a1a1a" text-anchor="middle" textLength="92" lengthAdjust="spacingAndGlyphs">1500</text>
<text x="1919.8" y="1331.5" font-family="'Liberation Serif', 'DejaVu Serif', serif" font-size="46" fill="#1a1a1a" text-anchor="middle" textLength="92" lengthAdjust="spacingAndGlyphs">1000</text>
<text x="948" y="1397.5" font-family="'Liberation Serif', 'DejaVu Serif', serif" font-size="45" fill="#1a1a1a" textLength="391" lengthAdjust="spacingAndGlyphs">Wavenumber (cm<tspan dy="-17" font-size="28">−1</tspan><tspan dy="17">)</tspan></text>
<text transform="translate(63.5,826) rotate(-90)" x="0" y="0" font-family="'Liberation Serif', 'DejaVu Serif', serif" font-size="45" fill="#1a1a1a" textLength="387" lengthAdjust="spacingAndGlyphs">Transmittance (a.u.)</text>
<text x="1982" y="114.5" font-family="'Liberation Sans', 'DejaVu Sans', sans-serif" font-size="62" font-weight="bold" fill="#000" textLength="72" lengthAdjust="spacingAndGlyphs">(a)</text>
<line x1="1415" y1="124.8" x2="1518" y2="124.8" stroke="#6e6e6e" stroke-width="4.5"/>
<text x="1531.5" y="138.1" font-family="'Liberation Serif', 'DejaVu Serif', serif" font-size="40.5" fill="#1a1a1a" textLength="87" lengthAdjust="spacingAndGlyphs">In air</text>
<line x1="1415" y1="173.4" x2="1518" y2="173.4" stroke="#2aa6c4" stroke-width="4.5"/>
<text x="1531.5" y="183.2" font-family="'Liberation Serif', 'DejaVu Serif', serif" font-size="40.5" fill="#1a1a1a" textLength="443" lengthAdjust="spacingAndGlyphs">Outgassing RT 60 minutes</text>
<line x1="1415" y1="221.5" x2="1518" y2="221.5" stroke="#b84848" stroke-width="4.5"/>
<text x="1531.5" y="228.6" font-family="'Liberation Serif', 'DejaVu Serif', serif" font-size="40.5" fill="#1a1a1a" textLength="503" lengthAdjust="spacingAndGlyphs">Outgassing 120 °C 60 minutes</text>
<line x1="1415" y1="271.7" x2="1518" y2="271.7" stroke="#a8cfa0" stroke-width="4.5"/>
<text x="1531.5" y="274.3" font-family="'Liberation Serif', 'DejaVu Serif', serif" font-size="40.5" fill="#1a1a1a" textLength="503" lengthAdjust="spacingAndGlyphs">Outgassing 250 °C 60 minutes</text>
<line x1="1415" y1="323" x2="1518" y2="323" stroke="#4a7890" stroke-width="4.5"/>
<text x="1531.5" y="319.7" font-family="'Liberation Serif', 'DejaVu Serif', serif" font-size="40.5" fill="#1a1a1a" textLength="503" lengthAdjust="spacingAndGlyphs">Outgassing 400 °C 60 minutes</text>
<path d="M139.5,1504.0 C150.1,1502.0 159.2,1498.9 171.3,1498.0 C187.0,1496.8 209.5,1499.5 225.8,1500.0 C239.1,1500.4 253.4,1498.3 262.1,1501.0 C267.7,1502.7 271.8,1505.2 274.8,1509.0 C278.0,1513.0 278.7,1518.9 280.3,1525.0 C282.4,1532.8 284.2,1542.3 285.7,1552.0 C287.4,1563.1 288.5,1576.0 289.4,1588.0 C290.3,1600.0 290.8,1610.8 291.2,1624.0 C291.7,1640.2 291.8,1658.1 292.1,1678.0 C292.4,1702.5 292.7,1730.2 293.0,1760.0 C293.3,1795.5 293.7,1840.4 294.0,1877.0 C294.2,1909.2 294.1,1940.6 294.5,1968.0 C294.8,1990.6 295.4,2015.0 296.0,2030.0 C296.4,2038.5 296.8,2041.3 297.2,2050.0 C297.9,2066.1 294.3,2108.0 299.0,2119.0 C300.8,2123.2 304.3,2122.6 306.3,2126.3 C310.0,2133.0 311.2,2146.7 313.6,2159.0 C316.7,2174.8 319.4,2196.1 322.6,2213.4 C325.5,2229.2 328.0,2245.2 331.7,2258.8 C334.8,2270.2 337.7,2287.5 342.6,2289.7 C345.3,2290.9 348.7,2288.7 351.7,2286.0 C357.4,2280.7 362.5,2264.9 368.0,2253.4 C374.0,2240.8 379.8,2225.7 386.2,2213.4 C392.0,2202.3 397.6,2188.9 404.3,2182.6 C408.8,2178.3 414.8,2176.3 418.9,2175.3 C421.6,2174.7 424.1,2174.9 426.1,2175.3 C427.6,2175.6 428.8,2175.6 430.0,2177.0 C433.4,2180.9 436.0,2197.8 439.0,2208.0 C442.0,2218.1 444.2,2229.0 448.0,2238.0 C451.4,2246.1 456.6,2251.6 460.0,2260.0 C464.1,2270.1 467.2,2281.9 470.0,2295.0 C473.5,2311.2 475.6,2330.5 478.0,2350.0 C480.7,2371.9 482.8,2396.7 485.0,2420.0 C487.2,2443.3 489.0,2466.7 491.0,2490.0 C493.0,2513.3 495.1,2540.7 497.0,2560.0 C498.4,2573.7 499.0,2586.6 501.0,2595.0 C502.2,2600.0 503.8,2606.7 505.2,2606.6 C507.4,2606.5 509.4,2588.8 512.0,2580.0 C514.6,2571.0 517.9,2562.2 520.9,2553.1 C523.9,2543.8 526.2,2532.3 530.0,2525.0 C532.8,2519.6 537.0,2511.8 539.8,2512.2 C543.2,2512.7 545.8,2527.8 548.0,2535.0 C549.9,2541.3 550.1,2552.7 552.4,2553.1 C554.3,2553.5 557.1,2544.7 560.0,2542.0 C562.4,2539.8 565.3,2537.0 568.1,2537.4 C572.0,2537.9 576.9,2544.7 580.7,2550.0 C585.5,2556.7 586.5,2570.7 593.3,2575.2 C600.1,2579.7 612.1,2574.4 621.6,2576.7 C632.1,2579.2 641.6,2585.6 653.1,2590.9 C667.3,2597.4 683.4,2606.3 700.3,2612.9 C718.8,2620.2 742.6,2627.9 760.0,2632.1 C773.1,2635.3 782.5,2637.7 794.9,2637.9 C808.9,2638.2 825.9,2635.7 839.9,2632.1 C852.9,2628.7 865.2,2624.0 876.2,2617.6 C886.9,2611.3 896.7,2602.8 905.3,2594.3 C913.5,2586.2 920.1,2577.5 927.1,2568.2 C934.6,2558.2 942.7,2546.8 948.9,2536.2 C954.6,2526.5 958.8,2517.5 963.4,2507.2 C968.5,2495.9 973.0,2484.1 977.9,2470.9 C983.6,2455.4 989.0,2437.6 995.4,2420.0 C1002.5,2400.6 1011.6,2377.2 1018.8,2359.4 C1024.6,2345.3 1029.8,2333.0 1035.0,2321.6 C1039.4,2311.9 1043.6,2303.9 1048.0,2295.0 C1052.4,2286.0 1056.0,2277.1 1061.4,2267.9 C1067.5,2257.6 1075.4,2242.5 1083.2,2236.4 C1088.5,2232.2 1094.1,2231.6 1100.0,2230.0 C1106.2,2228.3 1115.4,2228.2 1119.5,2226.8 C1121.6,2226.1 1122.6,2225.5 1123.9,2224.4 C1125.3,2223.1 1126.3,2221.1 1127.5,2219.2 C1128.8,2217.3 1129.7,2214.8 1131.2,2213.2 C1132.4,2211.9 1134.0,2210.3 1135.4,2210.2 C1136.6,2210.0 1138.0,2210.7 1139.0,2211.7 C1140.2,2212.9 1140.6,2216.2 1141.5,2217.7 C1142.1,2218.7 1142.6,2220.1 1143.3,2220.2 C1144.0,2220.2 1144.9,2218.5 1145.7,2217.7 C1146.5,2217.0 1147.1,2215.8 1148.1,2215.6 C1149.5,2215.3 1152.1,2216.9 1153.6,2217.7 C1154.8,2218.3 1155.4,2219.0 1156.6,2219.8 C1158.3,2221.1 1160.8,2222.6 1162.6,2224.7 C1164.7,2227.2 1165.0,2231.8 1167.9,2234.0 C1171.7,2236.8 1179.1,2238.3 1184.9,2237.7 C1191.2,2237.1 1198.0,2234.2 1204.2,2229.2 C1212.9,2222.2 1220.5,2206.9 1228.5,2195.3 C1236.7,2183.5 1244.8,2168.3 1252.7,2159.0 C1258.5,2152.2 1264.5,2145.6 1270.0,2143.0 C1273.7,2141.3 1277.3,2140.5 1280.8,2141.6 C1285.1,2142.9 1289.6,2148.3 1293.0,2152.4 C1296.3,2156.4 1298.6,2160.5 1301.0,2166.0 C1304.2,2173.3 1306.5,2183.5 1309.1,2193.0 C1312.0,2203.6 1314.8,2216.4 1317.2,2226.6 C1319.2,2235.1 1320.4,2241.8 1322.6,2250.0 C1325.1,2259.4 1328.5,2269.3 1331.5,2280.0 C1335.0,2292.4 1337.9,2307.2 1342.0,2320.0 C1346.0,2332.4 1350.4,2343.2 1355.7,2355.7 C1361.8,2370.0 1368.5,2394.4 1376.9,2401.0 C1381.5,2404.7 1387.6,2400.9 1392.0,2404.1 C1398.3,2408.7 1402.6,2420.4 1407.1,2431.3 C1413.2,2446.1 1417.4,2471.4 1422.3,2485.8 C1425.6,2495.6 1428.5,2503.5 1432.0,2510.0 C1434.6,2514.9 1437.6,2522.2 1440.4,2522.1 C1443.6,2521.9 1446.8,2511.3 1450.0,2505.0 C1453.8,2497.5 1458.1,2489.0 1461.6,2479.8 C1465.6,2469.3 1467.5,2455.1 1472.0,2445.0 C1475.8,2436.3 1481.1,2429.8 1485.8,2422.3 C1490.5,2414.8 1494.2,2404.8 1500.0,2400.0 C1504.7,2396.1 1510.4,2393.3 1516.1,2393.5 C1522.7,2393.8 1530.9,2398.4 1537.3,2404.1 C1545.5,2411.5 1553.0,2425.4 1558.5,2437.4 C1564.1,2449.6 1567.2,2462.6 1570.6,2476.7 C1574.4,2492.6 1576.3,2528.1 1579.6,2528.2 C1582.4,2528.3 1585.8,2506.3 1588.7,2491.9 C1592.9,2471.3 1596.9,2439.5 1600.8,2416.2 C1604.2,2396.1 1608.3,2375.1 1610.7,2360.0 C1612.3,2349.8 1613.0,2343.3 1614.4,2334.2 C1616.0,2323.9 1616.4,2306.7 1619.8,2301.5 C1621.3,2299.2 1623.3,2299.5 1625.3,2297.9 C1628.0,2295.7 1631.7,2292.4 1634.3,2288.8 C1637.2,2284.7 1638.9,2274.4 1641.6,2274.3 C1644.4,2274.2 1647.7,2283.4 1650.7,2288.8 C1654.3,2295.3 1656.6,2304.8 1661.6,2310.6 C1666.4,2316.1 1674.6,2324.2 1679.7,2323.3 C1684.9,2322.4 1687.9,2310.2 1692.5,2305.2 C1696.5,2300.8 1701.2,2294.1 1705.2,2294.3 C1709.0,2294.4 1713.1,2300.2 1716.1,2305.2 C1720.3,2312.2 1722.3,2323.4 1725.1,2334.2 C1728.5,2347.7 1731.2,2363.7 1734.2,2380.0 C1737.6,2398.6 1740.7,2420.9 1744.0,2440.0 C1747.0,2457.4 1749.9,2473.8 1753.0,2490.0 C1755.9,2505.4 1759.1,2519.9 1762.0,2535.0 C1765.0,2550.3 1768.2,2566.2 1770.6,2581.4 C1772.9,2596.0 1774.0,2610.9 1776.3,2624.6 C1778.4,2637.2 1780.5,2650.9 1783.5,2660.6 C1785.6,2667.5 1787.7,2673.8 1790.7,2677.8 C1792.8,2680.6 1795.6,2681.7 1798.0,2683.6" fill="none" stroke="#8e8e8e" stroke-width="2.6" stroke-linejoin="round" stroke-linecap="round" />
<path d="M139.5,1503.0 C150.1,1501.0 159.2,1497.9 171.3,1497.0 C187.0,1495.8 209.5,1498.5 225.8,1499.0 C239.1,1499.4 253.4,1497.3 262.1,1500.0 C267.7,1501.7 271.8,1504.2 274.8,1508.0 C278.0,1512.0 278.7,1517.9 280.3,1524.0 C282.4,1531.8 284.2,1541.3 285.7,1551.0 C287.4,1562.1 288.5,1575.0 289.4,1587.1 C290.3,1599.2 290.8,1610.1 291.2,1623.4 C291.7,1639.7 291.8,1657.9 292.1,1677.9 C292.4,1702.5 292.7,1730.2 293.0,1760.0 C293.3,1795.6 293.3,1845.6 294.0,1877.0 C294.5,1898.1 294.5,1915.0 296.0,1930.0 C297.1,1941.1 298.8,1950.0 300.8,1958.8 C302.6,1966.5 304.9,1972.7 307.0,1980.0 C309.2,1987.8 311.7,1995.3 313.6,2004.2 C315.9,2014.9 317.6,2031.8 319.0,2040.0 C319.7,2044.4 320.1,2045.3 320.8,2050.0 C322.3,2060.9 324.5,2086.3 326.3,2104.5 C328.1,2122.7 329.5,2141.7 331.7,2159.0 C333.8,2174.8 335.1,2192.2 339.0,2204.3 C341.8,2213.1 345.6,2225.4 349.9,2226.1 C353.6,2226.7 358.2,2218.5 362.6,2213.4 C368.3,2206.9 374.8,2198.0 380.7,2189.8 C386.9,2181.2 392.4,2168.4 398.9,2162.6 C403.5,2158.5 409.2,2154.5 413.4,2155.3 C417.7,2156.2 421.4,2164.0 424.3,2168.0 C426.6,2171.2 428.2,2173.0 430.0,2177.0 C433.0,2183.6 435.2,2195.5 438.0,2205.0 C440.9,2214.8 443.1,2226.2 447.0,2235.0 C450.3,2242.6 455.5,2247.4 459.0,2255.0 C463.0,2263.8 466.2,2273.6 469.0,2285.0 C472.5,2299.4 474.6,2317.2 477.0,2335.0 C479.7,2355.2 481.9,2377.9 484.0,2400.0 C486.2,2422.9 488.0,2446.7 490.0,2470.0 C492.0,2493.3 494.1,2520.7 496.0,2540.0 C497.4,2553.7 498.1,2566.3 500.0,2575.0 C501.2,2580.4 502.7,2587.8 504.2,2587.7 C506.6,2587.6 509.2,2565.9 512.0,2555.0 C514.8,2543.9 517.7,2532.0 520.9,2521.6 C523.8,2512.2 526.1,2501.7 530.0,2495.0 C532.8,2490.1 536.9,2483.6 539.8,2483.9 C542.9,2484.2 545.9,2493.2 548.0,2498.0 C550.0,2502.6 551.0,2508.0 552.4,2512.2 C553.5,2515.7 554.2,2521.5 555.5,2521.6 C556.7,2521.7 558.0,2516.1 560.0,2514.0 C562.1,2511.8 565.2,2508.7 568.1,2509.0 C572.0,2509.5 576.9,2516.1 580.7,2521.6 C585.7,2528.8 586.2,2545.1 593.3,2550.0 C600.1,2554.7 612.2,2548.8 621.6,2551.5 C632.2,2554.5 641.5,2562.6 653.1,2568.9 C667.2,2576.6 683.3,2586.8 700.3,2594.0 C718.7,2601.8 742.6,2608.6 760.0,2613.2 C773.1,2616.7 783.0,2620.2 794.9,2620.5 C807.2,2620.8 821.1,2618.1 832.6,2614.7 C843.2,2611.6 852.3,2607.1 861.7,2601.6 C871.7,2595.7 882.2,2587.8 890.8,2579.8 C899.0,2572.2 905.5,2564.0 912.5,2555.1 C920.0,2545.6 928.2,2535.2 934.3,2524.6 C940.2,2514.3 944.2,2503.7 948.9,2492.6 C953.9,2480.9 958.8,2468.4 963.4,2456.3 C968.0,2444.2 971.7,2433.7 976.5,2420.0 C982.7,2402.4 989.8,2379.4 997.2,2359.4 C1004.6,2339.4 1014.2,2317.8 1020.9,2300.0 C1026.3,2285.6 1029.9,2272.9 1034.7,2260.7 C1039.0,2249.8 1043.5,2240.2 1048.0,2230.0 C1052.4,2220.0 1055.7,2209.7 1061.4,2200.1 C1067.4,2190.0 1075.6,2177.0 1083.2,2171.0 C1088.6,2166.8 1094.1,2165.6 1100.0,2164.0 C1106.2,2162.3 1115.4,2162.7 1119.5,2161.4 C1121.6,2160.7 1122.6,2160.1 1123.9,2159.0 C1125.3,2157.7 1126.3,2155.7 1127.5,2153.8 C1128.8,2151.9 1129.7,2149.4 1131.2,2147.8 C1132.4,2146.5 1134.0,2144.9 1135.4,2144.8 C1136.6,2144.6 1138.0,2145.3 1139.0,2146.2 C1140.2,2147.5 1140.6,2150.8 1141.5,2152.3 C1142.1,2153.3 1142.6,2154.7 1143.3,2154.8 C1144.0,2154.8 1144.9,2153.1 1145.7,2152.3 C1146.5,2151.6 1147.1,2150.4 1148.1,2150.2 C1149.5,2149.9 1152.1,2151.5 1153.6,2152.3 C1154.8,2152.9 1155.4,2153.6 1156.6,2154.4 C1158.3,2155.7 1160.9,2157.1 1162.6,2159.3 C1164.8,2162.2 1164.8,2168.1 1167.9,2171.0 C1171.6,2174.4 1179.1,2177.3 1184.9,2177.1 C1191.2,2176.9 1198.0,2173.6 1204.2,2168.6 C1212.9,2161.6 1220.5,2146.3 1228.5,2134.7 C1236.7,2122.9 1244.9,2108.3 1252.7,2098.4 C1258.6,2090.8 1264.0,2082.2 1270.0,2079.6 C1274.4,2077.7 1279.7,2077.8 1283.5,2079.6 C1287.5,2081.6 1290.3,2086.9 1293.0,2091.7 C1296.3,2097.4 1298.5,2104.7 1301.0,2112.0 C1303.9,2120.3 1306.6,2130.0 1309.1,2139.0 C1311.6,2148.0 1313.6,2157.0 1315.9,2166.0 C1318.1,2175.0 1320.5,2183.5 1322.6,2193.0 C1325.0,2203.6 1327.5,2216.4 1329.4,2226.6 C1331.0,2235.1 1331.7,2241.7 1333.4,2250.0 C1335.3,2259.4 1337.5,2268.8 1340.5,2280.0 C1344.3,2294.6 1349.5,2315.0 1355.0,2330.0 C1359.7,2342.8 1363.2,2358.2 1370.8,2364.7 C1376.5,2369.7 1386.3,2366.0 1392.0,2370.8 C1399.1,2376.7 1402.5,2389.4 1407.1,2401.0 C1412.9,2415.7 1417.8,2437.3 1422.3,2452.5 C1425.9,2464.6 1428.4,2476.2 1432.0,2485.0 C1434.6,2491.4 1437.6,2501.0 1440.4,2500.9 C1443.6,2500.8 1446.6,2487.2 1450.0,2480.0 C1453.7,2472.1 1458.1,2464.6 1461.6,2455.5 C1465.6,2444.9 1468.8,2431.4 1472.0,2420.0 C1474.9,2409.6 1476.8,2398.8 1480.0,2390.0 C1482.6,2382.7 1484.8,2376.5 1489.0,2370.5 C1493.6,2363.9 1500.9,2355.0 1507.2,2352.4 C1511.9,2350.4 1517.1,2350.4 1521.8,2352.4 C1528.1,2355.0 1534.3,2363.3 1540.0,2370.5 C1546.7,2379.0 1553.6,2389.4 1558.5,2401.0 C1564.2,2414.3 1567.1,2430.8 1570.6,2446.5 C1574.2,2463.0 1576.3,2497.8 1579.6,2497.9 C1582.4,2498.0 1585.8,2476.0 1588.7,2461.6 C1592.9,2441.0 1597.5,2408.0 1600.8,2385.9 C1603.4,2368.7 1604.8,2352.8 1607.1,2340.0 C1608.8,2330.7 1611.0,2326.1 1612.6,2316.1 C1615.1,2299.7 1612.4,2258.9 1618.0,2250.7 C1620.0,2247.8 1623.0,2249.1 1625.3,2247.1 C1628.5,2244.4 1631.3,2238.6 1634.3,2234.4 C1637.3,2230.1 1640.4,2221.6 1643.4,2221.6 C1646.4,2221.6 1649.2,2229.4 1652.5,2234.4 C1656.9,2241.0 1661.8,2251.9 1667.0,2258.0 C1671.0,2262.7 1675.4,2269.1 1679.7,2268.9 C1684.5,2268.7 1689.7,2257.3 1694.3,2254.3 C1697.5,2252.2 1700.6,2250.1 1703.4,2250.7 C1706.7,2251.4 1709.7,2255.5 1712.4,2259.8 C1716.7,2266.5 1720.0,2277.9 1723.3,2288.8 C1727.4,2302.1 1731.5,2319.0 1734.2,2334.2 C1736.9,2349.4 1737.6,2363.7 1739.7,2380.0 C1742.1,2398.7 1745.2,2420.9 1748.0,2440.0 C1750.6,2457.4 1753.4,2473.8 1756.0,2490.0 C1758.5,2505.4 1761.1,2519.9 1763.5,2535.0 C1766.0,2550.3 1768.4,2566.2 1770.6,2581.4 C1772.7,2596.0 1774.0,2610.9 1776.3,2624.6 C1778.4,2637.2 1780.5,2650.9 1783.5,2660.6 C1785.6,2667.5 1787.7,2673.8 1790.7,2677.8 C1792.8,2680.6 1795.6,2681.7 1798.0,2683.6" fill="none" stroke="#8e8e8e" stroke-width="2.6" stroke-linejoin="round" stroke-linecap="round" />
<path d="M139.5,1501.8 C150.1,1500.0 159.2,1497.1 171.3,1496.3 C187.0,1495.2 209.5,1497.6 225.8,1498.1 C239.1,1498.5 253.4,1496.3 262.1,1499.0 C267.7,1500.7 271.8,1503.3 274.8,1507.2 C278.0,1511.4 278.6,1517.4 280.3,1523.6 C282.4,1531.5 284.2,1541.0 285.7,1550.8 C287.4,1562.0 288.5,1575.0 289.4,1587.1 C290.3,1599.2 290.8,1610.1 291.2,1623.4 C291.7,1639.7 291.8,1657.9 292.1,1677.9 C292.4,1702.5 292.7,1734.8 293.0,1760.0 C293.3,1781.6 293.0,1803.5 294.0,1820.0 C294.7,1831.7 295.4,1841.1 297.2,1850.0 C298.7,1857.4 301.0,1862.9 303.0,1870.0 C305.2,1877.9 308.1,1886.1 310.0,1895.3 C312.2,1905.9 313.5,1918.2 315.0,1930.0 C316.5,1942.4 317.9,1955.0 319.0,1968.0 C320.2,1981.6 321.4,1996.2 322.0,2010.0 C322.6,2023.5 321.8,2035.7 322.6,2050.0 C323.6,2066.8 325.9,2087.2 328.1,2104.5 C330.2,2120.4 332.1,2136.8 335.3,2149.9 C337.8,2160.2 340.6,2170.3 344.4,2177.1 C347.1,2181.9 349.7,2187.2 353.5,2188.0 C357.5,2188.8 363.2,2184.2 368.0,2180.7 C374.1,2176.3 380.5,2168.3 386.2,2162.6 C391.3,2157.5 396.3,2149.8 400.7,2148.0 C403.3,2146.9 405.6,2147.1 408.0,2148.0 C411.0,2149.1 414.4,2152.2 417.0,2155.3 C419.9,2158.7 422.0,2164.2 424.3,2168.0 C426.3,2171.3 428.2,2173.2 430.0,2177.0 C432.6,2182.8 434.5,2191.8 437.0,2200.0 C439.8,2209.3 442.1,2221.2 446.0,2230.0 C449.3,2237.6 454.4,2242.8 458.0,2250.0 C461.8,2257.7 465.2,2265.3 468.0,2275.0 C471.6,2287.7 473.6,2303.9 476.0,2320.0 C478.7,2338.5 480.9,2359.2 483.0,2380.0 C485.3,2402.4 487.1,2427.6 489.0,2450.0 C490.8,2470.8 492.1,2494.3 494.0,2510.0 C495.2,2520.2 496.3,2527.9 498.0,2535.0 C499.3,2540.3 500.9,2548.9 502.4,2548.8 C504.8,2548.7 507.1,2526.8 510.0,2515.0 C513.2,2502.1 517.4,2487.4 520.9,2474.4 C524.1,2462.5 526.1,2449.1 530.0,2440.0 C532.8,2433.4 536.5,2424.1 539.8,2424.0 C542.9,2423.9 546.8,2431.0 549.2,2436.7 C553.0,2445.6 553.3,2474.3 555.5,2474.4 C557.0,2474.5 557.3,2461.8 560.0,2458.0 C562.0,2455.1 565.3,2452.4 568.1,2452.4 C571.1,2452.4 574.7,2455.1 577.6,2458.7 C582.6,2464.8 584.1,2484.9 590.2,2490.2 C594.3,2493.8 599.9,2493.2 605.0,2494.0 C610.3,2494.8 615.5,2492.9 621.6,2494.9 C630.8,2497.9 641.5,2508.1 653.1,2515.4 C667.2,2524.2 683.4,2534.6 700.3,2543.7 C718.8,2553.7 742.5,2566.1 760.0,2572.5 C772.9,2577.2 782.5,2581.3 794.9,2581.3 C809.0,2581.2 827.9,2575.0 839.9,2569.6 C848.9,2565.6 854.7,2560.8 861.7,2555.1 C869.3,2548.9 876.5,2541.4 883.5,2533.3 C891.1,2524.6 899.1,2514.3 905.3,2504.3 C911.1,2494.9 915.0,2485.0 919.8,2475.2 C924.7,2465.2 930.0,2454.4 934.3,2444.7 C938.1,2436.1 940.8,2430.3 944.5,2420.0 C950.4,2403.8 957.8,2376.6 964.8,2356.1 C971.4,2336.7 978.3,2319.9 985.3,2300.0 C993.3,2277.5 1001.5,2251.9 1010.0,2228.0 C1018.4,2204.1 1028.8,2175.1 1036.0,2156.5 C1040.6,2144.5 1043.8,2136.7 1048.0,2127.0 C1052.2,2117.3 1055.8,2107.7 1061.4,2098.4 C1067.4,2088.4 1075.6,2075.4 1083.2,2069.4 C1088.6,2065.1 1094.1,2063.6 1100.0,2062.0 C1106.1,2060.3 1115.4,2061.2 1119.5,2059.7 C1121.6,2058.9 1122.6,2058.1 1123.9,2056.7 C1125.4,2055.1 1126.3,2052.6 1127.5,2050.3 C1128.8,2048.0 1129.7,2044.8 1131.2,2042.8 C1132.4,2041.2 1134.0,2039.2 1135.4,2039.0 C1136.6,2038.9 1138.1,2039.8 1139.0,2040.9 C1140.3,2042.5 1140.6,2046.5 1141.5,2048.4 C1142.1,2049.7 1142.6,2051.4 1143.3,2051.4 C1144.0,2051.5 1144.9,2049.4 1145.7,2048.4 C1146.5,2047.5 1147.0,2046.0 1148.1,2045.8 C1149.5,2045.5 1152.1,2047.4 1153.6,2048.4 C1154.8,2049.2 1155.4,2050.0 1156.6,2051.1 C1158.3,2052.7 1160.8,2054.6 1162.6,2057.1 C1164.7,2060.1 1164.9,2065.1 1167.9,2068.0 C1171.6,2071.6 1179.2,2075.7 1184.9,2075.3 C1191.3,2074.8 1198.0,2069.2 1204.2,2063.2 C1212.8,2054.9 1220.4,2039.0 1228.5,2026.9 C1236.6,2014.8 1244.5,1999.0 1252.7,1990.6 C1258.4,1984.7 1264.3,1979.8 1270.0,1978.3 C1274.5,1977.1 1279.7,1977.7 1283.5,1979.7 C1287.4,1981.7 1290.3,1986.1 1293.0,1990.5 C1296.3,1996.0 1298.5,2003.9 1301.0,2010.7 C1303.5,2017.4 1305.8,2023.3 1307.8,2031.0 C1310.4,2040.7 1312.3,2053.5 1314.5,2064.7 C1316.8,2075.9 1319.3,2087.1 1321.3,2098.4 C1323.3,2109.6 1324.9,2120.9 1326.7,2132.2 C1328.5,2143.5 1330.3,2154.7 1332.1,2166.0 C1333.9,2177.2 1335.6,2189.1 1337.5,2199.7 C1339.2,2209.2 1341.3,2217.9 1342.9,2226.6 C1344.4,2234.7 1345.4,2241.7 1346.9,2250.0 C1348.6,2259.4 1350.0,2271.4 1352.6,2280.0 C1354.6,2286.9 1356.6,2293.3 1360.0,2298.0 C1362.9,2302.0 1366.4,2304.1 1370.8,2307.2 C1376.5,2311.2 1386.2,2313.4 1392.0,2319.3 C1398.6,2326.0 1402.6,2335.6 1407.1,2346.6 C1413.1,2361.4 1417.9,2384.3 1422.3,2401.0 C1426.0,2415.1 1428.7,2428.1 1432.0,2440.0 C1434.8,2450.1 1437.4,2467.6 1440.4,2467.7 C1443.4,2467.8 1446.8,2450.1 1450.0,2440.0 C1453.8,2427.9 1458.1,2414.1 1461.6,2400.0 C1465.5,2384.3 1468.6,2364.5 1472.0,2350.0 C1474.7,2338.7 1476.0,2329.0 1480.0,2320.0 C1483.7,2311.7 1489.5,2304.0 1494.5,2297.9 C1498.6,2292.8 1502.4,2287.2 1507.2,2285.2 C1511.6,2283.4 1517.4,2283.4 1521.8,2285.2 C1526.6,2287.2 1530.4,2292.1 1534.5,2297.9 C1540.7,2306.6 1547.6,2321.1 1552.6,2334.2 C1558.0,2348.3 1562.0,2365.2 1565.3,2380.0 C1568.3,2393.7 1569.6,2408.1 1572.0,2420.0 C1573.9,2429.8 1575.9,2446.5 1578.1,2446.5 C1580.5,2446.5 1582.6,2426.7 1585.7,2416.2 C1589.1,2404.6 1594.7,2394.7 1598.0,2380.0 C1602.8,2358.4 1604.4,2326.0 1607.1,2297.9 C1609.9,2268.4 1610.9,2229.3 1614.4,2207.1 C1616.4,2194.0 1617.7,2183.1 1621.6,2176.2 C1624.0,2171.8 1628.1,2170.8 1630.7,2167.2 C1633.7,2163.1 1635.5,2157.3 1638.0,2152.6 C1640.4,2148.2 1642.5,2140.0 1645.2,2139.9 C1648.0,2139.8 1651.2,2147.9 1654.3,2152.6 C1657.9,2158.1 1661.6,2164.7 1665.2,2170.8 C1668.8,2176.9 1672.0,2185.5 1676.1,2189.0 C1678.9,2191.4 1681.9,2192.7 1685.2,2192.6 C1689.1,2192.5 1693.9,2186.7 1697.9,2187.1 C1701.8,2187.5 1705.9,2190.9 1708.8,2194.4 C1712.2,2198.4 1713.8,2204.7 1716.1,2210.7 C1718.8,2217.8 1720.8,2225.2 1723.3,2234.4 C1726.7,2247.0 1731.2,2263.8 1734.2,2279.7 C1737.4,2296.9 1739.7,2316.8 1741.5,2334.2 C1743.2,2350.1 1743.5,2363.7 1745.1,2380.0 C1746.9,2398.7 1749.7,2420.9 1752.0,2440.0 C1754.1,2457.4 1756.3,2474.3 1758.5,2490.0 C1760.5,2504.1 1762.6,2515.8 1764.5,2530.0 C1766.7,2546.0 1768.5,2565.0 1770.6,2581.4 C1772.5,2596.4 1774.0,2610.9 1776.3,2624.6 C1778.4,2637.2 1780.5,2650.9 1783.5,2660.6 C1785.6,2667.5 1787.7,2673.8 1790.7,2677.8 C1792.8,2680.6 1795.6,2681.7 1798.0,2683.6" fill="none" stroke="#8e8e8e" stroke-width="2.6" stroke-linejoin="round" stroke-linecap="round" />
<path d="M139.5,1516.3 C147.1,1513.3 154.9,1508.6 162.2,1507.2 C168.5,1506.0 174.6,1505.4 180.4,1507.2 C186.8,1509.2 191.8,1515.6 198.6,1520.0 C206.7,1525.2 216.4,1532.7 225.8,1536.3 C234.6,1539.7 247.0,1539.7 253.0,1541.7 C256.2,1542.7 257.9,1543.3 260.0,1545.0 C262.3,1546.9 264.2,1550.3 266.0,1553.0 C267.8,1555.6 269.4,1557.4 270.8,1561.0 C273.2,1567.2 274.6,1579.0 276.2,1588.0 C277.8,1597.0 279.1,1606.0 280.2,1615.0 C281.3,1624.0 282.2,1632.1 283.0,1642.0 C284.0,1654.1 284.8,1668.9 285.6,1682.4 C286.4,1695.9 287.2,1708.3 287.7,1723.0 C288.3,1740.4 288.5,1760.0 289.0,1780.0 C289.6,1802.1 290.4,1824.6 291.0,1850.0 C291.7,1880.4 292.3,1916.7 293.0,1950.0 C293.7,1983.3 294.5,2013.3 295.0,2050.0 C295.6,2094.9 295.7,2150.0 296.0,2200.0 C296.2,2250.0 296.2,2310.8 296.5,2350.0 C296.7,2375.4 296.7,2394.4 297.2,2412.6 C297.6,2426.7 298.1,2440.7 299.0,2450.0 C299.5,2455.6 299.9,2463.4 300.9,2463.5 C301.9,2463.6 303.2,2454.5 305.0,2450.0 C306.8,2445.3 308.9,2437.1 311.8,2436.2 C314.1,2435.5 317.2,2439.6 320.0,2441.0 C322.7,2442.3 325.3,2444.7 328.1,2444.4 C331.6,2444.0 335.7,2440.5 339.0,2436.2 C344.2,2429.3 347.5,2415.4 351.7,2403.6 C356.6,2389.8 362.5,2369.9 366.2,2358.2 C368.5,2350.8 369.4,2347.4 371.7,2340.0 C375.3,2328.3 381.1,2310.8 386.2,2295.1 C391.9,2277.8 399.0,2258.1 404.3,2240.7 C409.1,2224.9 412.5,2206.9 417.0,2195.3 C419.9,2187.7 423.5,2182.7 426.1,2177.1 C428.2,2172.5 428.7,2168.7 431.6,2164.4 C435.6,2158.5 444.7,2151.9 449.7,2146.2 C453.8,2141.6 456.6,2136.5 460.0,2133.0 C462.7,2130.2 465.3,2126.1 467.9,2126.3 C471.0,2126.6 474.4,2132.0 477.0,2137.2 C481.4,2146.0 483.5,2162.7 486.1,2177.1 C489.1,2193.8 491.2,2213.4 493.3,2231.6 C495.4,2249.7 497.4,2270.0 498.8,2286.0 C499.9,2298.7 500.8,2309.4 501.5,2320.0 C502.1,2329.4 500.8,2345.8 503.0,2346.4 C504.3,2346.8 507.3,2342.3 509.0,2337.9 C513.1,2327.2 513.4,2297.1 516.3,2277.4 C519.1,2258.4 522.0,2236.7 526.0,2221.7 C528.8,2211.0 531.1,2199.2 535.7,2195.0 C538.4,2192.5 543.0,2191.3 545.4,2192.6 C548.3,2194.2 548.8,2201.4 550.2,2207.2 C552.2,2215.2 553.2,2236.1 555.0,2236.2 C556.5,2236.3 557.5,2222.3 559.9,2216.9 C561.8,2212.6 564.2,2206.6 567.2,2206.0 C570.0,2205.4 574.3,2208.8 576.9,2212.0 C580.4,2216.3 581.4,2225.8 584.1,2231.4 C586.3,2236.0 588.3,2242.4 591.4,2243.5 C594.1,2244.4 597.7,2241.5 601.0,2239.9 C604.9,2238.0 608.6,2233.4 613.2,2232.6 C618.2,2231.8 624.2,2233.7 630.1,2236.2 C637.7,2239.4 645.5,2247.3 654.3,2252.0 C663.9,2257.1 676.3,2259.7 685.8,2265.3 C694.8,2270.7 701.8,2278.5 710.0,2284.6 C718.0,2290.6 726.0,2296.3 734.2,2301.6 C742.2,2306.8 750.1,2312.4 758.4,2316.1 C766.3,2319.6 776.0,2321.1 782.7,2323.4 C787.5,2325.1 791.0,2329.0 794.8,2328.2 C799.1,2327.3 801.5,2320.1 806.9,2316.1 C814.6,2310.4 832.7,2302.5 838.4,2299.2 C840.6,2298.0 841.0,2298.1 842.9,2296.5 C847.2,2292.9 855.3,2282.8 861.6,2275.0 C868.7,2266.2 877.1,2256.1 883.2,2246.2 C889.0,2236.9 893.0,2227.6 897.6,2217.4 C902.6,2206.2 907.3,2194.0 911.9,2181.4 C916.9,2167.7 921.8,2152.0 926.3,2138.3 C930.4,2125.8 934.0,2114.3 937.8,2102.3 C941.7,2090.3 945.5,2078.9 949.4,2066.3 C953.7,2052.6 958.0,2037.6 962.3,2023.2 C966.6,2008.8 970.3,1996.3 975.3,1980.0 C981.9,1958.6 990.4,1929.9 998.4,1905.8 C1006.1,1882.6 1014.9,1854.1 1022.6,1838.0 C1027.2,1828.4 1031.7,1823.5 1036.0,1816.2 C1040.2,1809.1 1043.8,1802.1 1048.0,1795.0 C1052.3,1787.6 1055.8,1779.4 1061.4,1772.6 C1067.4,1765.4 1077.8,1756.7 1083.2,1753.3 C1085.9,1751.6 1087.5,1751.3 1090.0,1750.5 C1092.8,1749.6 1095.4,1748.6 1099.1,1748.1 C1104.7,1747.3 1116.4,1749.5 1120.3,1747.5 C1122.4,1746.4 1122.8,1744.7 1123.9,1742.7 C1125.3,1740.0 1126.3,1736.0 1127.5,1732.4 C1128.8,1728.5 1129.6,1723.6 1131.2,1720.3 C1132.4,1717.8 1133.9,1714.4 1135.4,1714.2 C1136.6,1714.0 1138.1,1715.6 1139.0,1717.2 C1140.5,1719.7 1140.6,1726.2 1141.5,1729.3 C1142.1,1731.3 1142.6,1734.2 1143.3,1734.2 C1144.0,1734.2 1144.9,1730.9 1145.7,1729.3 C1146.5,1727.8 1147.0,1725.3 1148.1,1725.1 C1149.5,1724.8 1152.1,1727.8 1153.6,1729.3 C1154.9,1730.6 1155.5,1731.9 1156.6,1733.6 C1158.3,1736.2 1160.5,1740.4 1162.6,1743.3 C1164.5,1746.0 1166.6,1748.2 1168.7,1750.5 C1170.7,1752.7 1172.6,1754.8 1174.7,1756.6 C1176.7,1758.2 1178.0,1760.1 1180.8,1760.8 C1185.2,1762.0 1193.8,1762.0 1199.4,1759.3 C1205.8,1756.2 1210.5,1748.6 1216.3,1741.2 C1224.1,1731.4 1235.6,1712.1 1240.6,1704.8 C1242.8,1701.6 1242.8,1700.6 1245.3,1698.0 C1250.3,1692.8 1264.7,1679.4 1271.9,1678.6 C1276.4,1678.1 1280.5,1680.8 1283.5,1683.7 C1286.8,1686.8 1288.1,1692.2 1290.2,1697.2 C1292.7,1703.2 1294.9,1710.2 1297.0,1717.5 C1299.4,1725.8 1301.8,1735.2 1303.7,1744.5 C1305.7,1754.3 1307.0,1764.9 1308.5,1775.0 C1310.0,1785.0 1311.2,1794.8 1312.5,1805.0 C1313.9,1815.5 1315.2,1826.2 1316.5,1837.0 C1317.8,1847.9 1319.2,1858.8 1320.4,1870.0 C1321.7,1881.5 1322.7,1893.3 1323.9,1905.0 C1325.1,1916.8 1326.0,1928.6 1327.4,1940.4 C1328.8,1952.1 1330.7,1963.7 1332.1,1975.4 C1333.5,1987.1 1334.2,1998.8 1335.6,2010.5 C1337.0,2022.2 1338.3,2032.1 1340.3,2045.6 C1343.1,2064.3 1347.3,2093.6 1351.0,2112.0 C1353.6,2125.2 1355.9,2136.0 1359.0,2145.7 C1361.5,2153.4 1363.3,2161.4 1367.2,2166.0 C1370.1,2169.5 1374.3,2170.9 1378.0,2172.7 C1381.5,2174.4 1385.9,2174.5 1388.8,2176.7 C1391.7,2179.0 1393.6,2182.2 1395.5,2186.2 C1398.0,2191.5 1399.3,2199.6 1400.9,2206.4 C1402.5,2213.1 1403.7,2219.6 1405.0,2226.6 C1406.4,2234.1 1407.2,2240.8 1409.0,2250.0 C1411.7,2263.6 1416.3,2283.3 1420.0,2300.0 C1423.7,2316.7 1426.6,2337.7 1431.0,2350.0 C1433.7,2357.7 1437.2,2368.3 1440.0,2368.0 C1444.7,2367.4 1448.5,2333.5 1452.5,2314.0 C1457.2,2291.3 1461.2,2263.3 1466.0,2240.0 C1470.4,2218.9 1474.7,2200.2 1480.0,2179.9 C1485.4,2158.9 1490.6,2128.2 1498.2,2116.3 C1502.0,2110.3 1506.6,2106.3 1510.9,2105.4 C1514.5,2104.7 1518.5,2106.3 1521.8,2109.0 C1526.7,2113.0 1530.5,2122.2 1534.5,2130.8 C1539.7,2141.9 1544.6,2156.6 1549.0,2170.8 C1553.8,2186.6 1558.0,2204.8 1561.7,2221.6 C1565.3,2238.1 1567.6,2257.1 1570.8,2270.7 C1573.1,2280.6 1575.7,2296.1 1578.1,2296.1 C1580.5,2296.1 1582.9,2280.4 1585.3,2270.7 C1588.4,2257.8 1591.6,2242.3 1594.4,2225.3 C1597.9,2204.0 1601.1,2176.9 1603.5,2152.6 C1605.9,2128.4 1605.9,2104.3 1608.9,2080.0 C1612.0,2055.2 1614.9,2025.8 1622.0,2005.3 C1627.5,1989.6 1635.8,1966.4 1643.2,1966.0 C1650.0,1965.6 1658.2,1984.7 1664.4,1996.2 C1671.6,2009.4 1675.5,2031.0 1682.5,2041.6 C1687.1,2048.6 1693.6,2049.6 1697.7,2056.7 C1703.8,2067.2 1705.7,2084.3 1709.8,2102.1 C1715.6,2127.1 1722.5,2161.4 1727.9,2192.9 C1733.7,2226.8 1738.9,2265.9 1743.1,2298.9 C1746.8,2327.7 1749.8,2353.7 1752.2,2380.0 C1754.5,2404.7 1755.5,2428.0 1757.5,2452.0 C1759.6,2476.0 1762.2,2501.4 1764.5,2524.0 C1766.6,2544.2 1768.5,2563.6 1770.6,2581.4 C1772.4,2596.8 1774.0,2610.9 1776.3,2624.6 C1778.4,2637.2 1780.5,2650.9 1783.5,2660.6 C1785.6,2667.5 1787.7,2673.8 1790.7,2677.8 C1792.8,2680.6 1795.6,2681.7 1798.0,2683.6" fill="none" stroke="#8e8e8e" stroke-width="2.6" stroke-linejoin="round" stroke-linecap="round" />
<path d="M139.5,1507.2 C150.1,1503.0 160.2,1497.8 171.3,1494.5 C182.9,1491.1 197.5,1488.7 207.6,1487.2 C214.7,1486.1 219.7,1486.1 225.8,1485.4 C231.9,1484.6 238.1,1482.8 244.0,1482.7 C249.5,1482.6 255.0,1483.1 260.0,1484.5 C264.8,1485.9 270.2,1488.7 273.5,1490.8 C275.7,1492.2 277.0,1493.0 278.5,1495.0 C280.7,1497.8 282.5,1502.1 284.3,1507.0 C286.9,1514.1 289.5,1524.0 291.0,1534.0 C292.8,1546.1 292.5,1560.0 293.1,1574.5 C293.8,1591.2 294.5,1611.7 295.1,1628.4 C295.6,1642.9 295.6,1656.9 296.4,1669.0 C297.1,1678.9 297.8,1687.0 299.1,1696.0 C300.5,1705.0 302.7,1714.0 304.5,1723.0 C306.3,1732.0 308.4,1740.7 310.0,1750.0 C311.6,1759.7 312.9,1769.1 314.0,1780.0 C315.3,1792.9 316.1,1805.7 317.2,1822.6 C318.9,1847.2 320.7,1884.8 322.6,1913.4 C324.3,1939.0 326.4,1962.6 328.1,1986.0 C329.7,2008.0 330.9,2030.5 332.6,2050.0 C334.0,2066.4 334.6,2081.6 337.2,2095.4 C339.4,2107.3 342.0,2119.0 346.2,2128.0 C349.6,2135.3 353.5,2143.7 359.0,2146.2 C364.0,2148.5 370.9,2145.7 377.1,2144.4 C384.1,2142.9 393.2,2137.0 398.9,2137.2 C402.6,2137.3 405.0,2138.8 408.0,2140.8 C411.7,2143.2 415.9,2147.4 418.9,2151.7 C422.1,2156.3 424.0,2162.4 426.1,2168.0 C428.3,2173.8 429.8,2180.1 431.6,2186.2 C433.4,2192.2 435.1,2197.2 437.0,2204.3 C439.7,2214.3 443.1,2228.6 446.1,2240.7 C449.1,2252.8 452.2,2264.9 455.2,2277.0 C458.2,2289.1 461.6,2301.1 464.3,2313.3 C467.0,2325.5 469.2,2337.2 471.5,2350.0 C474.0,2364.1 476.4,2377.8 478.8,2394.5 C481.9,2415.7 485.5,2442.9 487.9,2467.1 C490.3,2491.3 491.5,2516.3 493.4,2539.7 C495.2,2561.6 496.0,2586.3 498.8,2603.3 C500.7,2615.0 503.6,2632.3 506.1,2632.4 C508.0,2632.5 509.9,2621.6 512.0,2615.0 C514.7,2606.3 517.7,2594.1 520.9,2584.6 C523.8,2575.9 526.0,2565.8 530.0,2560.0 C532.8,2556.0 536.7,2551.3 539.8,2551.5 C543.1,2551.8 546.7,2557.7 549.2,2562.6 C552.6,2569.3 553.0,2588.9 555.5,2589.3 C556.9,2589.5 558.1,2584.2 560.0,2582.0 C562.2,2579.5 565.2,2575.4 568.1,2575.2 C571.1,2575.0 574.4,2578.1 577.6,2581.4 C582.8,2586.9 585.7,2603.3 593.3,2608.2 C600.6,2612.9 612.0,2609.2 621.6,2611.4 C631.9,2613.8 641.6,2618.1 653.1,2622.4 C667.3,2627.7 683.4,2636.4 700.3,2641.3 C718.8,2646.7 741.6,2650.2 760.0,2652.5 C775.6,2654.5 789.1,2655.6 803.6,2655.4 C818.1,2655.2 834.3,2653.9 847.2,2651.0 C858.0,2648.6 866.7,2645.2 876.2,2640.8 C886.1,2636.1 896.0,2630.6 905.3,2623.4 C915.5,2615.4 925.6,2604.3 934.3,2594.3 C942.4,2584.9 949.3,2576.3 956.1,2565.3 C964.0,2552.6 971.6,2535.7 977.9,2521.7 C983.5,2509.2 986.3,2498.9 992.5,2485.4 C1000.7,2467.5 1016.4,2440.6 1024.2,2424.2 C1029.3,2413.5 1032.0,2406.2 1036.0,2397.2 C1040.0,2388.1 1043.5,2378.2 1048.0,2370.0 C1052.1,2362.7 1056.3,2357.4 1061.4,2350.2 C1067.7,2341.4 1075.8,2328.2 1083.2,2321.2 C1088.7,2316.0 1094.0,2312.8 1100.0,2310.0 C1106.1,2307.2 1115.4,2306.0 1119.5,2304.2 C1121.6,2303.3 1122.6,2302.9 1123.9,2301.7 C1125.3,2300.4 1126.3,2298.2 1127.5,2296.3 C1128.8,2294.4 1129.7,2291.7 1131.2,2290.1 C1132.4,2288.7 1134.0,2287.0 1135.4,2286.9 C1136.6,2286.7 1138.0,2287.5 1139.0,2288.4 C1140.3,2289.7 1140.6,2293.1 1141.5,2294.7 C1142.1,2295.8 1142.6,2297.2 1143.3,2297.3 C1144.0,2297.3 1144.9,2295.5 1145.7,2294.7 C1146.5,2294.0 1147.1,2292.7 1148.1,2292.6 C1149.5,2292.3 1152.1,2293.9 1153.6,2294.7 C1154.8,2295.4 1155.4,2296.1 1156.6,2297.0 C1158.3,2298.3 1160.8,2300.1 1162.6,2302.0 C1164.6,2304.1 1165.3,2307.4 1167.9,2309.1 C1171.3,2311.4 1177.1,2313.0 1182.4,2312.7 C1189.0,2312.3 1197.5,2309.6 1204.2,2304.2 C1213.4,2296.9 1220.3,2279.7 1228.5,2267.9 C1236.5,2256.3 1244.7,2242.5 1252.7,2234.0 C1258.5,2227.8 1263.9,2222.1 1270.0,2219.9 C1275.2,2218.1 1281.7,2218.0 1286.2,2219.9 C1290.6,2221.7 1293.9,2226.4 1297.0,2230.7 C1300.3,2235.3 1302.4,2240.4 1305.1,2246.9 C1308.8,2255.9 1312.1,2266.2 1316.3,2280.0 C1323.2,2302.7 1332.6,2344.5 1340.5,2370.8 C1346.7,2391.4 1351.1,2411.9 1358.7,2425.3 C1364.0,2434.7 1370.4,2442.7 1376.9,2446.5 C1381.7,2449.3 1387.6,2446.3 1392.0,2449.5 C1398.3,2454.1 1402.5,2466.2 1407.1,2476.7 C1412.8,2489.7 1417.4,2510.2 1422.3,2522.1 C1425.6,2530.2 1428.5,2536.9 1432.0,2542.0 C1434.6,2545.8 1437.5,2550.9 1440.4,2550.9 C1443.5,2550.8 1446.8,2544.2 1450.0,2540.0 C1453.9,2534.9 1457.3,2529.8 1461.6,2522.1 C1468.6,2509.6 1476.5,2484.3 1485.8,2470.7 C1493.1,2460.0 1501.7,2448.2 1510.0,2445.0 C1516.0,2442.7 1522.1,2443.9 1528.2,2446.5 C1536.3,2449.9 1546.0,2458.6 1552.4,2467.7 C1559.7,2478.1 1563.1,2492.9 1567.5,2507.0 C1572.4,2522.9 1575.6,2558.5 1579.6,2558.5 C1583.6,2558.5 1588.3,2524.7 1591.7,2507.0 C1595.2,2488.6 1597.4,2468.3 1600.0,2450.0 C1602.4,2433.1 1604.7,2415.5 1606.9,2401.0 C1608.7,2389.5 1609.8,2378.8 1612.0,2370.0 C1613.7,2363.2 1614.9,2355.3 1618.0,2352.4 C1620.0,2350.6 1623.0,2351.7 1625.3,2350.6 C1627.8,2349.4 1630.3,2347.2 1632.5,2345.1 C1634.8,2343.0 1636.8,2337.7 1638.9,2337.9 C1641.7,2338.2 1644.8,2346.6 1647.1,2352.4 C1650.2,2360.0 1650.3,2371.8 1654.3,2380.0 C1658.2,2387.9 1664.7,2398.2 1670.4,2401.0 C1674.3,2402.9 1679.1,2403.2 1682.5,2401.0 C1687.9,2397.5 1690.3,2381.8 1694.3,2374.2 C1697.4,2368.2 1700.0,2361.6 1703.7,2358.7 C1706.3,2356.7 1709.5,2355.2 1712.4,2356.0 C1716.6,2357.2 1721.4,2364.0 1725.1,2370.5 C1730.5,2380.1 1734.4,2395.5 1738.0,2410.0 C1742.2,2426.9 1744.1,2447.2 1747.6,2466.0 C1751.1,2485.2 1755.8,2503.6 1759.0,2524.0 C1762.6,2546.6 1764.8,2575.7 1767.7,2596.0 C1769.8,2611.0 1771.0,2623.3 1774.0,2635.0 C1776.5,2644.9 1780.4,2654.3 1783.5,2662.0 C1785.9,2668.0 1787.8,2674.1 1790.7,2677.8 C1792.8,2680.5 1795.6,2681.7 1798.0,2683.6" fill="none" stroke="#e44444" stroke-width="2.6" stroke-linejoin="round" stroke-linecap="round" />
<path d="M139.5,1605.3 C147.1,1608.3 155.3,1610.4 162.2,1614.4 C168.9,1618.3 174.6,1623.2 180.4,1628.9 C186.8,1635.2 192.6,1643.2 198.6,1650.7 C204.7,1658.3 211.2,1667.2 216.7,1674.3 C221.3,1680.2 224.4,1687.0 229.4,1690.6 C233.7,1693.8 239.4,1693.2 244.0,1696.0 C249.1,1699.1 254.8,1704.0 258.5,1708.8 C261.9,1713.2 263.4,1718.0 265.7,1723.3 C268.3,1729.4 271.2,1735.5 273.0,1743.3 C275.4,1753.6 275.6,1768.0 276.9,1780.0 C278.2,1791.5 279.6,1799.9 280.9,1813.6 C282.9,1834.9 285.1,1868.9 286.3,1895.3 C287.4,1920.2 287.4,1943.0 288.1,1967.9 C288.9,1994.4 290.2,2018.5 290.9,2050.0 C291.9,2092.5 292.1,2146.4 292.5,2200.0 C293.0,2261.9 293.4,2338.3 293.6,2400.0 C293.8,2453.3 293.2,2513.5 293.8,2548.8 C294.2,2568.3 294.6,2579.7 295.4,2594.2 C296.1,2607.5 295.6,2632.0 298.1,2632.4 C300.0,2632.7 303.0,2620.4 306.3,2612.4 C311.2,2600.3 318.4,2582.1 324.5,2567.0 C330.5,2551.9 336.9,2538.2 342.6,2521.6 C349.2,2502.3 354.7,2479.2 360.8,2458.0 C366.9,2436.8 372.7,2414.8 379.0,2394.5 C384.9,2375.6 392.2,2358.3 397.1,2340.0 C401.9,2322.1 403.8,2304.0 408.0,2286.0 C412.3,2267.8 418.5,2249.5 422.5,2231.6 C426.3,2214.4 428.4,2196.6 431.6,2180.7 C434.5,2166.6 437.9,2155.2 440.7,2140.8 C444.0,2124.1 447.1,2102.6 449.7,2086.3 C451.8,2073.0 453.3,2063.4 455.2,2050.0 C457.5,2033.6 459.8,2013.3 462.5,1995.1 C465.2,1976.9 468.5,1958.8 471.5,1940.7 C474.5,1922.5 477.3,1905.2 480.6,1886.2 C484.2,1865.2 488.1,1841.2 492.4,1820.2 C496.3,1800.9 500.3,1783.7 505.1,1765.0 C510.1,1745.5 515.6,1725.0 522.0,1705.8 C528.3,1687.0 535.3,1666.5 543.2,1650.7 C549.7,1637.7 555.8,1627.6 564.4,1616.8 C573.8,1604.9 586.4,1594.8 598.3,1582.9 C611.6,1569.6 626.4,1554.1 640.7,1540.5 C654.6,1527.3 669.4,1511.1 683.0,1502.4 C693.2,1495.9 702.3,1492.4 712.7,1489.7 C723.4,1486.9 736.2,1485.3 746.6,1486.3 C755.8,1487.2 765.2,1490.7 772.0,1493.9 C777.2,1496.3 781.6,1499.1 784.7,1502.4 C787.3,1505.2 788.2,1508.8 790.0,1512.0 C791.8,1515.2 793.7,1521.5 795.3,1521.4 C797.0,1521.3 798.1,1513.3 800.0,1510.0 C801.7,1507.1 803.0,1504.2 806.0,1502.4 C809.9,1500.0 818.3,1497.9 822.9,1499.0 C826.6,1499.9 829.4,1503.5 832.0,1506.0 C834.3,1508.2 836.0,1513.2 837.7,1513.0 C839.4,1512.8 840.1,1507.0 842.0,1505.0 C843.7,1503.2 845.3,1501.9 848.3,1501.1 C853.8,1499.7 865.9,1500.0 873.7,1502.4 C881.4,1504.7 885.6,1510.9 894.9,1515.0 C910.1,1521.7 935.8,1527.1 958.5,1534.2 C984.8,1542.4 1019.0,1554.9 1043.2,1561.7 C1061.0,1566.7 1080.5,1570.0 1090.0,1572.7 C1094.2,1573.9 1096.1,1574.6 1099.1,1575.7 C1102.1,1576.8 1105.0,1578.3 1108.2,1579.3 C1111.6,1580.3 1116.2,1582.3 1119.0,1581.7 C1121.1,1581.3 1122.6,1580.0 1123.9,1578.1 C1125.8,1575.3 1126.3,1569.6 1127.5,1565.4 C1128.7,1561.3 1129.7,1556.8 1131.2,1553.3 C1132.4,1550.3 1133.9,1545.6 1135.4,1545.4 C1136.5,1545.2 1138.1,1547.2 1139.0,1549.0 C1140.5,1551.9 1140.6,1558.8 1141.5,1562.4 C1142.1,1564.8 1142.6,1568.4 1143.3,1568.4 C1144.0,1568.4 1144.8,1564.1 1145.7,1562.4 C1146.4,1561.0 1147.0,1558.9 1148.1,1558.7 C1149.5,1558.4 1152.2,1560.8 1153.6,1562.4 C1155.0,1564.0 1155.4,1566.1 1156.6,1568.4 C1158.3,1571.7 1160.6,1576.5 1162.6,1580.5 C1164.6,1584.5 1166.1,1589.2 1168.7,1592.6 C1171.2,1595.8 1174.7,1598.2 1177.8,1600.5 C1180.7,1602.6 1183.4,1604.5 1186.9,1606.0 C1191.1,1607.7 1196.4,1609.6 1201.7,1609.6 C1207.7,1609.6 1214.3,1607.3 1221.0,1604.8 C1228.8,1601.9 1237.5,1595.4 1245.3,1592.7 C1252.0,1590.4 1258.7,1587.8 1264.6,1588.6 C1270.0,1589.3 1275.0,1592.4 1279.2,1596.3 C1284.1,1600.9 1288.2,1608.0 1291.3,1615.7 C1295.1,1625.2 1295.7,1638.1 1298.3,1650.0 C1301.1,1663.0 1305.2,1676.0 1307.8,1690.5 C1310.8,1707.1 1312.4,1726.4 1314.5,1744.5 C1316.6,1762.9 1318.6,1782.3 1320.4,1800.0 C1322.1,1816.3 1323.5,1831.2 1325.1,1846.8 C1326.7,1862.4 1328.4,1878.0 1329.8,1893.6 C1331.2,1909.2 1332.0,1925.9 1333.3,1940.4 C1334.4,1952.9 1335.4,1963.7 1336.8,1975.4 C1338.2,1987.1 1339.9,1998.8 1341.5,2010.5 C1343.0,2022.2 1344.9,2034.8 1346.1,2045.6 C1347.1,2054.9 1346.9,2061.9 1348.3,2071.5 C1350.0,2083.5 1352.9,2099.7 1356.4,2112.0 C1359.4,2122.8 1362.9,2135.5 1367.2,2141.6 C1369.7,2145.1 1372.1,2147.0 1375.3,2148.4 C1378.7,2149.9 1384.0,2147.9 1387.4,2149.7 C1390.8,2151.5 1393.2,2155.2 1395.5,2159.2 C1398.5,2164.5 1400.3,2171.7 1402.3,2179.4 C1404.9,2189.2 1407.0,2201.7 1409.0,2213.2 C1411.1,2225.2 1412.5,2238.0 1414.4,2250.0 C1416.2,2261.5 1417.7,2270.8 1420.0,2283.7 C1423.0,2301.0 1426.1,2333.4 1431.3,2344.3 C1433.6,2349.1 1436.5,2353.8 1438.9,2353.3 C1443.0,2352.5 1445.8,2333.7 1449.5,2320.0 C1455.2,2298.9 1462.0,2267.4 1467.7,2238.3 C1474.2,2205.4 1479.4,2165.7 1485.8,2132.4 C1491.6,2102.5 1494.8,2062.6 1504.0,2047.7 C1508.3,2040.6 1514.4,2034.9 1519.1,2035.5 C1524.6,2036.2 1529.9,2047.3 1534.2,2056.7 C1540.9,2071.3 1544.1,2098.7 1549.4,2117.3 C1553.9,2133.3 1559.1,2149.6 1563.5,2161.7 C1566.7,2170.3 1569.3,2183.4 1572.6,2183.5 C1576.0,2183.6 1580.4,2170.1 1583.5,2161.7 C1587.3,2151.3 1590.0,2138.2 1592.6,2125.4 C1595.5,2111.2 1596.9,2096.7 1599.8,2080.0 C1603.4,2059.4 1608.0,2033.4 1612.9,2011.3 C1617.5,1990.4 1619.5,1957.5 1628.0,1950.8 C1632.2,1947.5 1638.0,1948.7 1643.2,1950.8 C1651.0,1954.0 1660.1,1965.6 1667.4,1975.0 C1675.5,1985.4 1682.7,1998.2 1688.6,2011.3 C1694.9,2025.3 1699.1,2039.4 1703.7,2056.7 C1709.7,2079.0 1714.9,2110.9 1719.7,2134.5 C1723.7,2154.3 1727.4,2169.5 1730.6,2189.0 C1734.2,2211.4 1737.0,2237.4 1739.7,2261.6 C1742.4,2285.8 1744.7,2312.8 1747.0,2334.2 C1748.9,2351.2 1750.8,2363.0 1752.4,2380.0 C1754.4,2401.3 1755.5,2428.0 1757.6,2452.0 C1759.7,2476.0 1762.5,2501.4 1764.8,2524.0 C1766.8,2544.2 1768.5,2563.6 1770.6,2581.4 C1772.4,2596.8 1774.0,2610.9 1776.3,2624.6 C1778.4,2637.2 1780.5,2650.9 1783.5,2660.6 C1785.6,2667.5 1787.7,2673.8 1790.7,2677.8 C1792.8,2680.6 1794.8,2682.4 1798.0,2683.6 C1802.3,2685.2 1807.2,2684.1 1815.0,2684.2 C1832.5,2684.5 1870.5,2684.1 1900.0,2684.0 C1932.0,2683.9 1967.1,2684.0 2000.0,2683.8 C2032.1,2683.6 2080.8,2684.8 2095.0,2683.0 C2099.2,2682.5 2100.9,2682.0 2103.0,2681.0 C2104.7,2680.2 2105.7,2679.0 2107.0,2678.0" fill="none" stroke="#3a3ab8" stroke-width="2.6" stroke-linejoin="round" stroke-linecap="round" />
<polygon points="1036.2,1598 1060.2,1598 1060.2,2424 1070,2424 1048.2,2447.5 1028.5,2424 1036.2,2424" fill="#808080"/>
<path d="M139,2700.5 L139,1468 L2109.5,1468" fill="none" stroke="#4e4e4e" stroke-width="3"/>
<path d="M139,2700.5 L2109.5,2700.5" fill="none" stroke="#6a6a6a" stroke-width="3"/>
<path d="M2109.5,1466.5 L2109.5,2702.0" fill="none" stroke="#888" stroke-width="3.5"/>
<line x1="121" y1="1689.5" x2="139" y2="1689.5" stroke="#555" stroke-width="3"/>
<line x1="121" y1="2022.7" x2="139" y2="2022.7" stroke="#555" stroke-width="3"/>
<line x1="121" y1="2355.9" x2="139" y2="2355.9" stroke="#555" stroke-width="3"/>
<line x1="121" y1="2689.1" x2="139" y2="2689.1" stroke="#555" stroke-width="3"/>
<line x1="138.5" y1="2700.5" x2="138.5" y2="2720.5" stroke="#444" stroke-width="3"/>
<line x1="442.9" y1="2700.5" x2="442.9" y2="2720.5" stroke="#444" stroke-width="3"/>
<line x1="747.3" y1="2700.5" x2="747.3" y2="2720.5" stroke="#444" stroke-width="3"/>
<line x1="1051.7" y1="2700.5" x2="1051.7" y2="2720.5" stroke="#444" stroke-width="3"/>
<line x1="1356.1" y1="2700.5" x2="1356.1" y2="2720.5" stroke="#444" stroke-width="3"/>
<line x1="1660.5" y1="2700.5" x2="1660.5" y2="2720.5" stroke="#444" stroke-width="3"/>
<line x1="1964.9" y1="2700.5" x2="1964.9" y2="2720.5" stroke="#444" stroke-width="3"/>
<text x="138.5" y="2775.5" font-family="'Liberation Serif', 'DejaVu Serif', serif" font-size="46" fill="#1a1a1a" text-anchor="middle" textLength="91" lengthAdjust="spacingAndGlyphs">4000</text>
<text x="442.9" y="2775.5" font-family="'Liberation Serif', 'DejaVu Serif', serif" font-size="46" fill="#1a1a1a" text-anchor="middle" textLength="91" lengthAdjust="spacingAndGlyphs">3500</text>
<text x="747.3" y="2775.5" font-family="'Liberation Serif', 'DejaVu Serif', serif" font-size="46" fill="#1a1a1a" text-anchor="middle" textLength="91" lengthAdjust="spacingAndGlyphs">3000</text>
<text x="1051.7" y="2775.5" font-family="'Liberation Serif', 'DejaVu Serif', serif" font-size="46" fill="#1a1a1a" text-anchor="middle" textLength="91" lengthAdjust="spacingAndGlyphs">2500</text>
<text x="1356.1" y="2775.5" font-family="'Liberation Serif', 'DejaVu Serif', serif" font-size="46" fill="#1a1a1a" text-anchor="middle" textLength="91" lengthAdjust="spacingAndGlyphs">2000</text>
<text x="1660.5" y="2775.5" font-family="'Liberation Serif', 'DejaVu Serif', serif" font-size="46" fill="#1a1a1a" text-anchor="middle" textLength="91" lengthAdjust="spacingAndGlyphs">1500</text>
<text x="1964.9" y="2775.5" font-family="'Liberation Serif', 'DejaVu Serif', serif" font-size="46" fill="#1a1a1a" text-anchor="middle" textLength="91" lengthAdjust="spacingAndGlyphs">1000</text>
<text x="917.5" y="2845.5" font-family="'Liberation Serif', 'DejaVu Serif', serif" font-size="45" fill="#1a1a1a" textLength="384" lengthAdjust="spacingAndGlyphs">Wavenumber (cm<tspan dy="-17" font-size="28">−1</tspan><tspan dy="17">)</tspan></text>
<text transform="translate(63,2223) rotate(-90)" x="0" y="0" font-family="'Liberation Serif', 'DejaVu Serif', serif" font-size="46" fill="#1a1a1a" textLength="403" lengthAdjust="spacingAndGlyphs">Transmittance (a.u.)</text>
<text x="2013" y="1543.5" font-family="'Liberation Sans', 'DejaVu Sans', sans-serif" font-size="62" font-weight="bold" fill="#000" textLength="74" lengthAdjust="spacingAndGlyphs">(b)</text>
<line x1="1375.5" y1="1543.2" x2="1475" y2="1543.2" stroke="#2080b0" stroke-width="5"/>
<line x1="1375.5" y1="1591.3" x2="1475" y2="1591.3" stroke="#959595" stroke-width="5"/>
<line x1="1375.5" y1="1686.4" x2="1475" y2="1686.4" stroke="#c84848" stroke-width="5"/>
<text x="1489.6" y="1556.8" font-family="'Liberation Serif', 'DejaVu Serif', serif" font-size="42" fill="#1a1a1a" textLength="363.5" lengthAdjust="spacingAndGlyphs">Outgassed at 250 °C</text>
<text x="1489.6" y="1605.3" font-family="'Liberation Serif', 'DejaVu Serif', serif" font-size="42" fill="#1a1a1a" textLength="527.5" lengthAdjust="spacingAndGlyphs">Admission of increasing NH<tspan dy="9" font-size="27">3</tspan></text>
<text x="1489.6" y="1654.4" font-family="'Liberation Serif', 'DejaVu Serif', serif" font-size="42" fill="#1a1a1a" textLength="412.5" lengthAdjust="spacingAndGlyphs">pressure up to 30 mbar</text>
<text x="1489.6" y="1701.6" font-family="'Liberation Serif', 'DejaVu Serif', serif" font-size="42" fill="#1a1a1a" textLength="493.5" lengthAdjust="spacingAndGlyphs">After 30 mbar in contact for</text>
<text x="1489.6" y="1750.6" font-family="'Liberation Serif', 'DejaVu Serif', serif" font-size="42" fill="#1a1a1a" textLength="201.5" lengthAdjust="spacingAndGlyphs">10 minutes</text>
</svg>
</body></html>
